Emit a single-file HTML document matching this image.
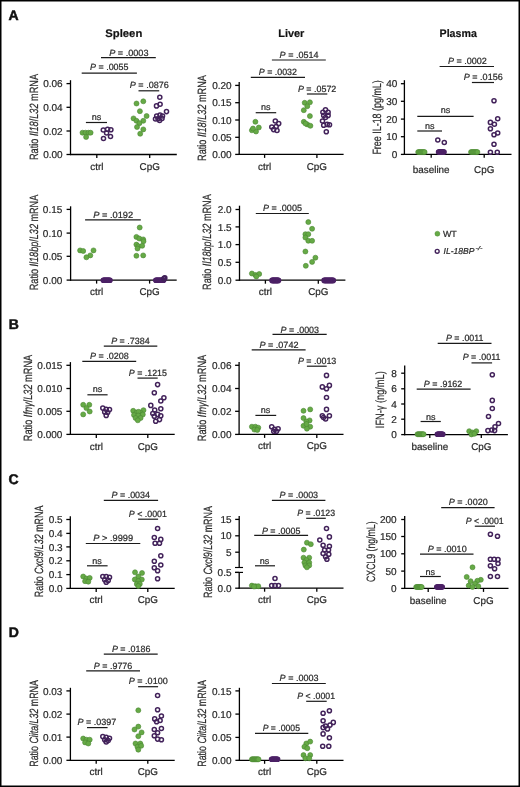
<!DOCTYPE html>
<html><head><meta charset="utf-8"><style>
html,body{margin:0;padding:0;background:#fff;}
svg{display:block;font-family:"Liberation Sans",sans-serif;text-rendering:geometricPrecision;will-change:transform;}
text{stroke:#2a2a2a;stroke-width:0.22px;}
</style></head><body>
<svg width="520" height="787" viewBox="0 0 520 787">
<rect x="0" y="0" width="520" height="787" fill="#fff"/>
<text x="8.60" y="20.30" font-size="14" text-anchor="start" font-weight="bold" font-style="normal" fill="#111" style="stroke:#111;stroke-width:0.5px">A</text>
<text x="8.80" y="328.90" font-size="14" text-anchor="start" font-weight="bold" font-style="normal" fill="#111" style="stroke:#111;stroke-width:0.5px">B</text>
<text x="8.40" y="483.70" font-size="14" text-anchor="start" font-weight="bold" font-style="normal" fill="#111" style="stroke:#111;stroke-width:0.5px">C</text>
<text x="8.80" y="636.90" font-size="14" text-anchor="start" font-weight="bold" font-style="normal" fill="#111" style="stroke:#111;stroke-width:0.5px">D</text>
<text x="123.80" y="37.20" font-size="11" text-anchor="middle" font-weight="bold" font-style="normal" fill="#111" textLength="37" lengthAdjust="spacingAndGlyphs">Spleen</text>
<text x="291.30" y="37.20" font-size="11" text-anchor="middle" font-weight="bold" font-style="normal" fill="#111" textLength="26.2" lengthAdjust="spacingAndGlyphs">Liver</text>
<text x="458.20" y="37.40" font-size="11" text-anchor="middle" font-weight="bold" font-style="normal" fill="#111" textLength="37.3" lengthAdjust="spacingAndGlyphs">Plasma</text>
<line x1="70.50" y1="80.20" x2="70.50" y2="155.10" stroke="#000" stroke-width="1.3"/>
<line x1="69.90" y1="154.50" x2="176.80" y2="154.50" stroke="#000" stroke-width="1.3"/>
<line x1="66.50" y1="83.60" x2="70.50" y2="83.60" stroke="#000" stroke-width="1.3"/>
<text x="62.70" y="87.20" font-size="10" text-anchor="end" font-weight="normal" font-style="normal" fill="#2a2a2a" >0.06</text>
<line x1="66.50" y1="107.30" x2="70.50" y2="107.30" stroke="#000" stroke-width="1.3"/>
<text x="62.70" y="110.90" font-size="10" text-anchor="end" font-weight="normal" font-style="normal" fill="#2a2a2a" >0.04</text>
<line x1="66.50" y1="131.00" x2="70.50" y2="131.00" stroke="#000" stroke-width="1.3"/>
<text x="62.70" y="134.60" font-size="10" text-anchor="end" font-weight="normal" font-style="normal" fill="#2a2a2a" >0.02</text>
<line x1="66.50" y1="154.50" x2="70.50" y2="154.50" stroke="#000" stroke-width="1.3"/>
<text x="62.70" y="158.10" font-size="10" text-anchor="end" font-weight="normal" font-style="normal" fill="#2a2a2a" >0.00</text>
<line x1="96.80" y1="154.50" x2="96.80" y2="158.00" stroke="#000" stroke-width="1.3"/>
<text x="96.80" y="169.90" font-size="9.9" text-anchor="middle" font-weight="normal" font-style="normal" fill="#2a2a2a" >ctrl</text>
<line x1="149.70" y1="154.50" x2="149.70" y2="158.00" stroke="#000" stroke-width="1.3"/>
<text x="149.70" y="169.90" font-size="9.9" text-anchor="middle" font-weight="normal" font-style="normal" fill="#2a2a2a" >CpG</text>
<text transform="translate(37.50,117.00) rotate(-90)" x="0" y="0" font-size="12" text-anchor="middle" fill="#2a2a2a" stroke="#2a2a2a" stroke-width="0.25" textLength="86.10" lengthAdjust="spacingAndGlyphs">Ratio <tspan font-style="italic">Il18</tspan>/<tspan font-style="italic">L32</tspan> mRNA</text>
<text x="109.20" y="55.60" font-size="9" fill="#2a2a2a" textLength="39.30" lengthAdjust="spacingAndGlyphs"><tspan font-style="italic">P</tspan> = .0003</text>
<line x1="101.00" y1="57.70" x2="155.80" y2="57.70" stroke="#1a1a1a" stroke-width="1.2"/>
<text x="90.00" y="70.40" font-size="9" fill="#2a2a2a" textLength="38.50" lengthAdjust="spacingAndGlyphs"><tspan font-style="italic">P</tspan> = .0055</text>
<line x1="81.70" y1="73.10" x2="136.90" y2="73.10" stroke="#1a1a1a" stroke-width="1.2"/>
<text x="129.80" y="87.70" font-size="9" fill="#2a2a2a" textLength="39.00" lengthAdjust="spacingAndGlyphs"><tspan font-style="italic">P</tspan> = .0876</text>
<line x1="138.50" y1="90.80" x2="159.20" y2="90.80" stroke="#1a1a1a" stroke-width="1.2"/>
<text x="96.50" y="119.70" font-size="9" text-anchor="middle" font-weight="normal" font-style="normal" fill="#2a2a2a" >ns</text>
<line x1="85.90" y1="122.50" x2="107.00" y2="122.50" stroke="#1a1a1a" stroke-width="1.2"/>
<circle cx="82.50" cy="132.70" r="2.5" fill="#66aa46" stroke="#4a8732" stroke-width="0.6"/>
<circle cx="85.50" cy="132.70" r="2.5" fill="#66aa46" stroke="#4a8732" stroke-width="0.6"/>
<circle cx="88.50" cy="132.70" r="2.5" fill="#66aa46" stroke="#4a8732" stroke-width="0.6"/>
<circle cx="90.60" cy="132.70" r="2.5" fill="#66aa46" stroke="#4a8732" stroke-width="0.6"/>
<circle cx="86.10" cy="137.00" r="2.5" fill="#66aa46" stroke="#4a8732" stroke-width="0.6"/>
<circle cx="103.30" cy="130.00" r="2.05" fill="none" stroke="#42225a" stroke-width="1.5"/>
<circle cx="107.60" cy="129.30" r="2.05" fill="none" stroke="#42225a" stroke-width="1.5"/>
<circle cx="110.90" cy="129.80" r="2.05" fill="none" stroke="#42225a" stroke-width="1.5"/>
<circle cx="106.60" cy="133.00" r="2.05" fill="none" stroke="#42225a" stroke-width="1.5"/>
<circle cx="110.50" cy="136.50" r="2.05" fill="none" stroke="#42225a" stroke-width="1.5"/>
<circle cx="103.50" cy="138.50" r="2.05" fill="none" stroke="#42225a" stroke-width="1.5"/>
<circle cx="136.50" cy="103.50" r="2.5" fill="#66aa46" stroke="#4a8732" stroke-width="0.6"/>
<circle cx="143.30" cy="101.30" r="2.5" fill="#66aa46" stroke="#4a8732" stroke-width="0.6"/>
<circle cx="139.90" cy="111.20" r="2.5" fill="#66aa46" stroke="#4a8732" stroke-width="0.6"/>
<circle cx="146.60" cy="116.00" r="2.5" fill="#66aa46" stroke="#4a8732" stroke-width="0.6"/>
<circle cx="133.50" cy="118.40" r="2.5" fill="#66aa46" stroke="#4a8732" stroke-width="0.6"/>
<circle cx="143.30" cy="120.80" r="2.5" fill="#66aa46" stroke="#4a8732" stroke-width="0.6"/>
<circle cx="136.50" cy="120.80" r="2.5" fill="#66aa46" stroke="#4a8732" stroke-width="0.6"/>
<circle cx="139.40" cy="123.20" r="2.5" fill="#66aa46" stroke="#4a8732" stroke-width="0.6"/>
<circle cx="137.00" cy="127.00" r="2.5" fill="#66aa46" stroke="#4a8732" stroke-width="0.6"/>
<circle cx="143.30" cy="129.40" r="2.5" fill="#66aa46" stroke="#4a8732" stroke-width="0.6"/>
<circle cx="140.20" cy="133.75" r="2.5" fill="#66aa46" stroke="#4a8732" stroke-width="0.6"/>
<circle cx="159.80" cy="97.20" r="2.05" fill="none" stroke="#42225a" stroke-width="1.5"/>
<circle cx="160.10" cy="104.20" r="2.05" fill="none" stroke="#42225a" stroke-width="1.5"/>
<circle cx="156.50" cy="105.90" r="2.05" fill="none" stroke="#42225a" stroke-width="1.5"/>
<circle cx="166.50" cy="111.60" r="2.05" fill="none" stroke="#42225a" stroke-width="1.5"/>
<circle cx="156.70" cy="116.00" r="2.05" fill="none" stroke="#42225a" stroke-width="1.5"/>
<circle cx="160.00" cy="115.00" r="2.05" fill="none" stroke="#42225a" stroke-width="1.5"/>
<circle cx="162.50" cy="116.00" r="2.05" fill="none" stroke="#42225a" stroke-width="1.5"/>
<circle cx="158.00" cy="118.80" r="2.05" fill="none" stroke="#42225a" stroke-width="1.5"/>
<circle cx="162.00" cy="118.50" r="2.05" fill="none" stroke="#42225a" stroke-width="1.5"/>
<circle cx="159.60" cy="120.50" r="2.05" fill="none" stroke="#42225a" stroke-width="1.5"/>
<circle cx="155.50" cy="119.00" r="2.05" fill="none" stroke="#42225a" stroke-width="1.5"/>
<line x1="239.20" y1="81.90" x2="239.20" y2="155.00" stroke="#000" stroke-width="1.3"/>
<line x1="238.60" y1="154.40" x2="343.60" y2="154.40" stroke="#000" stroke-width="1.3"/>
<line x1="235.20" y1="85.40" x2="239.20" y2="85.40" stroke="#000" stroke-width="1.3"/>
<text x="231.70" y="89.00" font-size="10" text-anchor="end" font-weight="normal" font-style="normal" fill="#2a2a2a" >0.20</text>
<line x1="235.20" y1="102.70" x2="239.20" y2="102.70" stroke="#000" stroke-width="1.3"/>
<text x="231.70" y="106.30" font-size="10" text-anchor="end" font-weight="normal" font-style="normal" fill="#2a2a2a" >0.15</text>
<line x1="235.20" y1="120.00" x2="239.20" y2="120.00" stroke="#000" stroke-width="1.3"/>
<text x="231.70" y="123.60" font-size="10" text-anchor="end" font-weight="normal" font-style="normal" fill="#2a2a2a" >0.10</text>
<line x1="235.20" y1="137.30" x2="239.20" y2="137.30" stroke="#000" stroke-width="1.3"/>
<text x="231.70" y="140.90" font-size="10" text-anchor="end" font-weight="normal" font-style="normal" fill="#2a2a2a" >0.05</text>
<line x1="235.20" y1="154.40" x2="239.20" y2="154.40" stroke="#000" stroke-width="1.3"/>
<text x="231.70" y="158.00" font-size="10" text-anchor="end" font-weight="normal" font-style="normal" fill="#2a2a2a" >0.00</text>
<line x1="264.60" y1="154.40" x2="264.60" y2="157.90" stroke="#000" stroke-width="1.3"/>
<text x="264.60" y="169.80" font-size="9.9" text-anchor="middle" font-weight="normal" font-style="normal" fill="#2a2a2a" >ctrl</text>
<line x1="316.90" y1="154.40" x2="316.90" y2="157.90" stroke="#000" stroke-width="1.3"/>
<text x="316.90" y="169.80" font-size="9.9" text-anchor="middle" font-weight="normal" font-style="normal" fill="#2a2a2a" >CpG</text>
<text transform="translate(206.30,118.00) rotate(-90)" x="0" y="0" font-size="12" text-anchor="middle" fill="#2a2a2a" stroke="#2a2a2a" stroke-width="0.25" textLength="85.80" lengthAdjust="spacingAndGlyphs">Ratio <tspan font-style="italic">Il18</tspan>/<tspan font-style="italic">L32</tspan> mRNA</text>
<text x="279.60" y="58.10" font-size="9" fill="#2a2a2a" textLength="38.90" lengthAdjust="spacingAndGlyphs"><tspan font-style="italic">P</tspan> = .0514</text>
<line x1="271.90" y1="60.00" x2="325.80" y2="60.00" stroke="#1a1a1a" stroke-width="1.2"/>
<text x="258.80" y="75.40" font-size="9" fill="#2a2a2a" textLength="38.10" lengthAdjust="spacingAndGlyphs"><tspan font-style="italic">P</tspan> = .0032</text>
<line x1="250.80" y1="77.30" x2="305.00" y2="77.30" stroke="#1a1a1a" stroke-width="1.2"/>
<text x="297.90" y="92.10" font-size="9" fill="#2a2a2a" textLength="38.40" lengthAdjust="spacingAndGlyphs"><tspan font-style="italic">P</tspan> = .0572</text>
<line x1="306.90" y1="94.00" x2="327.30" y2="94.00" stroke="#1a1a1a" stroke-width="1.2"/>
<text x="265.80" y="110.20" font-size="9" text-anchor="middle" font-weight="normal" font-style="normal" fill="#2a2a2a" >ns</text>
<line x1="255.70" y1="112.70" x2="276.20" y2="112.70" stroke="#1a1a1a" stroke-width="1.2"/>
<circle cx="255.40" cy="121.80" r="2.5" fill="#66aa46" stroke="#4a8732" stroke-width="0.6"/>
<circle cx="258.80" cy="127.50" r="2.5" fill="#66aa46" stroke="#4a8732" stroke-width="0.6"/>
<circle cx="251.90" cy="130.30" r="2.5" fill="#66aa46" stroke="#4a8732" stroke-width="0.6"/>
<circle cx="256.00" cy="131.50" r="2.5" fill="#66aa46" stroke="#4a8732" stroke-width="0.6"/>
<circle cx="253.00" cy="128.50" r="2.5" fill="#66aa46" stroke="#4a8732" stroke-width="0.6"/>
<circle cx="275.30" cy="121.00" r="2.05" fill="none" stroke="#42225a" stroke-width="1.5"/>
<circle cx="278.70" cy="123.60" r="2.05" fill="none" stroke="#42225a" stroke-width="1.5"/>
<circle cx="271.80" cy="127.00" r="2.05" fill="none" stroke="#42225a" stroke-width="1.5"/>
<circle cx="276.20" cy="126.50" r="2.05" fill="none" stroke="#42225a" stroke-width="1.5"/>
<circle cx="273.60" cy="129.60" r="2.05" fill="none" stroke="#42225a" stroke-width="1.5"/>
<circle cx="277.00" cy="130.50" r="2.05" fill="none" stroke="#42225a" stroke-width="1.5"/>
<circle cx="304.70" cy="102.80" r="2.5" fill="#66aa46" stroke="#4a8732" stroke-width="0.6"/>
<circle cx="309.90" cy="102.30" r="2.5" fill="#66aa46" stroke="#4a8732" stroke-width="0.6"/>
<circle cx="307.30" cy="106.20" r="2.5" fill="#66aa46" stroke="#4a8732" stroke-width="0.6"/>
<circle cx="303.80" cy="110.20" r="2.5" fill="#66aa46" stroke="#4a8732" stroke-width="0.6"/>
<circle cx="309.90" cy="116.10" r="2.5" fill="#66aa46" stroke="#4a8732" stroke-width="0.6"/>
<circle cx="303.80" cy="121.80" r="2.5" fill="#66aa46" stroke="#4a8732" stroke-width="0.6"/>
<circle cx="307.30" cy="124.40" r="2.5" fill="#66aa46" stroke="#4a8732" stroke-width="0.6"/>
<circle cx="310.40" cy="125.80" r="2.5" fill="#66aa46" stroke="#4a8732" stroke-width="0.6"/>
<circle cx="305.50" cy="123.50" r="2.5" fill="#66aa46" stroke="#4a8732" stroke-width="0.6"/>
<circle cx="325.50" cy="109.70" r="2.05" fill="none" stroke="#42225a" stroke-width="1.5"/>
<circle cx="322.90" cy="112.30" r="2.05" fill="none" stroke="#42225a" stroke-width="1.5"/>
<circle cx="328.10" cy="112.30" r="2.05" fill="none" stroke="#42225a" stroke-width="1.5"/>
<circle cx="323.70" cy="115.40" r="2.05" fill="none" stroke="#42225a" stroke-width="1.5"/>
<circle cx="328.10" cy="115.40" r="2.05" fill="none" stroke="#42225a" stroke-width="1.5"/>
<circle cx="325.50" cy="117.50" r="2.05" fill="none" stroke="#42225a" stroke-width="1.5"/>
<circle cx="322.50" cy="121.00" r="2.05" fill="none" stroke="#42225a" stroke-width="1.5"/>
<circle cx="327.20" cy="124.40" r="2.05" fill="none" stroke="#42225a" stroke-width="1.5"/>
<circle cx="323.70" cy="125.30" r="2.05" fill="none" stroke="#42225a" stroke-width="1.5"/>
<circle cx="329.50" cy="124.80" r="2.05" fill="none" stroke="#42225a" stroke-width="1.5"/>
<circle cx="326.30" cy="131.70" r="2.05" fill="none" stroke="#42225a" stroke-width="1.5"/>
<line x1="404.40" y1="80.20" x2="404.40" y2="154.90" stroke="#000" stroke-width="1.3"/>
<line x1="403.80" y1="154.30" x2="511.50" y2="154.30" stroke="#000" stroke-width="1.3"/>
<line x1="400.90" y1="83.70" x2="404.40" y2="83.70" stroke="#000" stroke-width="1.3"/>
<text x="397.30" y="87.30" font-size="10" text-anchor="end" font-weight="normal" font-style="normal" fill="#2a2a2a" >40</text>
<line x1="400.90" y1="101.30" x2="404.40" y2="101.30" stroke="#000" stroke-width="1.3"/>
<text x="397.30" y="104.90" font-size="10" text-anchor="end" font-weight="normal" font-style="normal" fill="#2a2a2a" >30</text>
<line x1="400.90" y1="119.10" x2="404.40" y2="119.10" stroke="#000" stroke-width="1.3"/>
<text x="397.30" y="122.70" font-size="10" text-anchor="end" font-weight="normal" font-style="normal" fill="#2a2a2a" >20</text>
<line x1="400.90" y1="136.70" x2="404.40" y2="136.70" stroke="#000" stroke-width="1.3"/>
<text x="397.30" y="140.30" font-size="10" text-anchor="end" font-weight="normal" font-style="normal" fill="#2a2a2a" >10</text>
<line x1="400.90" y1="154.40" x2="404.40" y2="154.40" stroke="#000" stroke-width="1.3"/>
<text x="397.30" y="158.00" font-size="10" text-anchor="end" font-weight="normal" font-style="normal" fill="#2a2a2a" >0</text>
<line x1="431.20" y1="154.30" x2="431.20" y2="157.80" stroke="#000" stroke-width="1.3"/>
<text x="431.20" y="173.30" font-size="9.9" text-anchor="middle" font-weight="normal" font-style="normal" fill="#2a2a2a" >baseline</text>
<line x1="484.20" y1="154.30" x2="484.20" y2="157.80" stroke="#000" stroke-width="1.3"/>
<text x="484.20" y="173.30" font-size="9.9" text-anchor="middle" font-weight="normal" font-style="normal" fill="#2a2a2a" >CpG</text>
<text transform="translate(380.80,117.40) rotate(-90)" x="0" y="0" font-size="12" text-anchor="middle" fill="#2a2a2a" stroke="#2a2a2a" stroke-width="0.25" textLength="74.40" lengthAdjust="spacingAndGlyphs">Free IL-18 (pg/mL)</text>
<text x="447.90" y="64.20" font-size="9" fill="#2a2a2a" textLength="39.00" lengthAdjust="spacingAndGlyphs"><tspan font-style="italic">P</tspan> = .0002</text>
<line x1="439.60" y1="66.50" x2="494.00" y2="66.50" stroke="#1a1a1a" stroke-width="1.2"/>
<text x="463.80" y="80.00" font-size="9" fill="#2a2a2a" textLength="38.90" lengthAdjust="spacingAndGlyphs"><tspan font-style="italic">P</tspan> = .0156</text>
<line x1="471.90" y1="82.50" x2="494.00" y2="82.50" stroke="#1a1a1a" stroke-width="1.2"/>
<text x="445.60" y="113.30" font-size="9" text-anchor="middle" font-weight="normal" font-style="normal" fill="#2a2a2a" >ns</text>
<line x1="417.30" y1="116.40" x2="473.60" y2="116.40" stroke="#1a1a1a" stroke-width="1.2"/>
<text x="429.70" y="128.80" font-size="9" text-anchor="middle" font-weight="normal" font-style="normal" fill="#2a2a2a" >ns</text>
<line x1="417.30" y1="131.00" x2="442.00" y2="131.00" stroke="#1a1a1a" stroke-width="1.2"/>
<circle cx="418.20" cy="152.10" r="2.5" fill="#66aa46" stroke="#4a8732" stroke-width="0.6"/>
<circle cx="419.27" cy="152.10" r="2.5" fill="#66aa46" stroke="#4a8732" stroke-width="0.6"/>
<circle cx="420.33" cy="152.10" r="2.5" fill="#66aa46" stroke="#4a8732" stroke-width="0.6"/>
<circle cx="421.40" cy="152.10" r="2.5" fill="#66aa46" stroke="#4a8732" stroke-width="0.6"/>
<circle cx="422.47" cy="152.10" r="2.5" fill="#66aa46" stroke="#4a8732" stroke-width="0.6"/>
<circle cx="423.53" cy="152.10" r="2.5" fill="#66aa46" stroke="#4a8732" stroke-width="0.6"/>
<circle cx="424.60" cy="152.10" r="2.5" fill="#66aa46" stroke="#4a8732" stroke-width="0.6"/>
<circle cx="438.60" cy="152.00" r="2.05" fill="none" stroke="#4c2166" stroke-width="1.5"/>
<circle cx="439.14" cy="152.00" r="2.05" fill="none" stroke="#4c2166" stroke-width="1.5"/>
<circle cx="439.68" cy="152.00" r="2.05" fill="none" stroke="#4c2166" stroke-width="1.5"/>
<circle cx="440.22" cy="152.00" r="2.05" fill="none" stroke="#4c2166" stroke-width="1.5"/>
<circle cx="440.76" cy="152.00" r="2.05" fill="none" stroke="#4c2166" stroke-width="1.5"/>
<circle cx="441.30" cy="152.00" r="2.05" fill="none" stroke="#4c2166" stroke-width="1.5"/>
<circle cx="441.84" cy="152.00" r="2.05" fill="none" stroke="#4c2166" stroke-width="1.5"/>
<circle cx="442.38" cy="152.00" r="2.05" fill="none" stroke="#4c2166" stroke-width="1.5"/>
<circle cx="442.92" cy="152.00" r="2.05" fill="none" stroke="#4c2166" stroke-width="1.5"/>
<circle cx="443.46" cy="152.00" r="2.05" fill="none" stroke="#4c2166" stroke-width="1.5"/>
<circle cx="444.00" cy="152.00" r="2.05" fill="none" stroke="#4c2166" stroke-width="1.5"/>
<circle cx="437.80" cy="140.00" r="2.05" fill="none" stroke="#42225a" stroke-width="1.5"/>
<circle cx="444.30" cy="142.50" r="2.05" fill="none" stroke="#42225a" stroke-width="1.5"/>
<circle cx="471.00" cy="152.10" r="2.5" fill="#66aa46" stroke="#4a8732" stroke-width="0.6"/>
<circle cx="472.07" cy="152.10" r="2.5" fill="#66aa46" stroke="#4a8732" stroke-width="0.6"/>
<circle cx="473.13" cy="152.10" r="2.5" fill="#66aa46" stroke="#4a8732" stroke-width="0.6"/>
<circle cx="474.20" cy="152.10" r="2.5" fill="#66aa46" stroke="#4a8732" stroke-width="0.6"/>
<circle cx="475.27" cy="152.10" r="2.5" fill="#66aa46" stroke="#4a8732" stroke-width="0.6"/>
<circle cx="476.33" cy="152.10" r="2.5" fill="#66aa46" stroke="#4a8732" stroke-width="0.6"/>
<circle cx="477.40" cy="152.10" r="2.5" fill="#66aa46" stroke="#4a8732" stroke-width="0.6"/>
<circle cx="494.00" cy="100.80" r="2.05" fill="none" stroke="#42225a" stroke-width="1.5"/>
<circle cx="497.70" cy="118.70" r="2.05" fill="none" stroke="#42225a" stroke-width="1.5"/>
<circle cx="490.40" cy="122.40" r="2.05" fill="none" stroke="#42225a" stroke-width="1.5"/>
<circle cx="494.40" cy="124.20" r="2.05" fill="none" stroke="#42225a" stroke-width="1.5"/>
<circle cx="490.40" cy="128.80" r="2.05" fill="none" stroke="#42225a" stroke-width="1.5"/>
<circle cx="497.70" cy="133.00" r="2.05" fill="none" stroke="#42225a" stroke-width="1.5"/>
<circle cx="494.00" cy="134.80" r="2.05" fill="none" stroke="#42225a" stroke-width="1.5"/>
<circle cx="494.00" cy="144.30" r="2.05" fill="none" stroke="#42225a" stroke-width="1.5"/>
<circle cx="490.40" cy="152.20" r="2.05" fill="none" stroke="#42225a" stroke-width="1.5"/>
<circle cx="497.30" cy="152.20" r="2.05" fill="none" stroke="#42225a" stroke-width="1.5"/>
<line x1="70.60" y1="206.30" x2="70.60" y2="280.70" stroke="#000" stroke-width="1.3"/>
<line x1="70.00" y1="280.10" x2="176.70" y2="280.10" stroke="#000" stroke-width="1.3"/>
<line x1="66.60" y1="209.40" x2="70.60" y2="209.40" stroke="#000" stroke-width="1.3"/>
<text x="62.30" y="213.00" font-size="10" text-anchor="end" font-weight="normal" font-style="normal" fill="#2a2a2a" >0.15</text>
<line x1="66.60" y1="233.10" x2="70.60" y2="233.10" stroke="#000" stroke-width="1.3"/>
<text x="62.30" y="236.70" font-size="10" text-anchor="end" font-weight="normal" font-style="normal" fill="#2a2a2a" >0.10</text>
<line x1="66.60" y1="256.30" x2="70.60" y2="256.30" stroke="#000" stroke-width="1.3"/>
<text x="62.30" y="259.90" font-size="10" text-anchor="end" font-weight="normal" font-style="normal" fill="#2a2a2a" >0.05</text>
<line x1="66.60" y1="280.10" x2="70.60" y2="280.10" stroke="#000" stroke-width="1.3"/>
<text x="62.30" y="283.70" font-size="10" text-anchor="end" font-weight="normal" font-style="normal" fill="#2a2a2a" >0.00</text>
<line x1="96.60" y1="280.10" x2="96.60" y2="283.60" stroke="#000" stroke-width="1.3"/>
<text x="96.60" y="294.80" font-size="9.9" text-anchor="middle" font-weight="normal" font-style="normal" fill="#2a2a2a" >ctrl</text>
<line x1="149.60" y1="280.10" x2="149.60" y2="283.60" stroke="#000" stroke-width="1.3"/>
<text x="149.60" y="294.80" font-size="9.9" text-anchor="middle" font-weight="normal" font-style="normal" fill="#2a2a2a" >CpG</text>
<text transform="translate(37.90,242.50) rotate(-90)" x="0" y="0" font-size="12" text-anchor="middle" fill="#2a2a2a" stroke="#2a2a2a" stroke-width="0.25" textLength="95.40" lengthAdjust="spacingAndGlyphs">Ratio <tspan font-style="italic">Il18bp</tspan>/<tspan font-style="italic">L32</tspan> mRNA</text>
<text x="93.20" y="217.70" font-size="9" fill="#2a2a2a" textLength="40.00" lengthAdjust="spacingAndGlyphs"><tspan font-style="italic">P</tspan> = .0192</text>
<line x1="85.10" y1="219.80" x2="140.80" y2="219.80" stroke="#1a1a1a" stroke-width="1.2"/>
<circle cx="80.10" cy="250.40" r="2.5" fill="#66aa46" stroke="#4a8732" stroke-width="0.6"/>
<circle cx="83.20" cy="251.00" r="2.5" fill="#66aa46" stroke="#4a8732" stroke-width="0.6"/>
<circle cx="93.50" cy="250.40" r="2.5" fill="#66aa46" stroke="#4a8732" stroke-width="0.6"/>
<circle cx="90.30" cy="255.40" r="2.5" fill="#66aa46" stroke="#4a8732" stroke-width="0.6"/>
<circle cx="86.40" cy="257.30" r="2.5" fill="#66aa46" stroke="#4a8732" stroke-width="0.6"/>
<circle cx="103.30" cy="280.20" r="2.05" fill="none" stroke="#4c2166" stroke-width="1.5"/>
<circle cx="103.91" cy="280.20" r="2.05" fill="none" stroke="#4c2166" stroke-width="1.5"/>
<circle cx="104.52" cy="280.20" r="2.05" fill="none" stroke="#4c2166" stroke-width="1.5"/>
<circle cx="105.13" cy="280.20" r="2.05" fill="none" stroke="#4c2166" stroke-width="1.5"/>
<circle cx="105.74" cy="280.20" r="2.05" fill="none" stroke="#4c2166" stroke-width="1.5"/>
<circle cx="106.35" cy="280.20" r="2.05" fill="none" stroke="#4c2166" stroke-width="1.5"/>
<circle cx="106.95" cy="280.20" r="2.05" fill="none" stroke="#4c2166" stroke-width="1.5"/>
<circle cx="107.56" cy="280.20" r="2.05" fill="none" stroke="#4c2166" stroke-width="1.5"/>
<circle cx="108.17" cy="280.20" r="2.05" fill="none" stroke="#4c2166" stroke-width="1.5"/>
<circle cx="108.78" cy="280.20" r="2.05" fill="none" stroke="#4c2166" stroke-width="1.5"/>
<circle cx="109.39" cy="280.20" r="2.05" fill="none" stroke="#4c2166" stroke-width="1.5"/>
<circle cx="110.00" cy="280.20" r="2.05" fill="none" stroke="#4c2166" stroke-width="1.5"/>
<circle cx="139.70" cy="227.50" r="2.5" fill="#66aa46" stroke="#4a8732" stroke-width="0.6"/>
<circle cx="136.40" cy="236.90" r="2.5" fill="#66aa46" stroke="#4a8732" stroke-width="0.6"/>
<circle cx="139.30" cy="238.50" r="2.5" fill="#66aa46" stroke="#4a8732" stroke-width="0.6"/>
<circle cx="143.20" cy="239.40" r="2.5" fill="#66aa46" stroke="#4a8732" stroke-width="0.6"/>
<circle cx="143.50" cy="241.30" r="2.5" fill="#66aa46" stroke="#4a8732" stroke-width="0.6"/>
<circle cx="136.40" cy="244.60" r="2.5" fill="#66aa46" stroke="#4a8732" stroke-width="0.6"/>
<circle cx="138.30" cy="246.20" r="2.5" fill="#66aa46" stroke="#4a8732" stroke-width="0.6"/>
<circle cx="142.20" cy="245.80" r="2.5" fill="#66aa46" stroke="#4a8732" stroke-width="0.6"/>
<circle cx="137.50" cy="248.50" r="2.5" fill="#66aa46" stroke="#4a8732" stroke-width="0.6"/>
<circle cx="136.40" cy="255.80" r="2.5" fill="#66aa46" stroke="#4a8732" stroke-width="0.6"/>
<circle cx="143.20" cy="255.40" r="2.5" fill="#66aa46" stroke="#4a8732" stroke-width="0.6"/>
<circle cx="155.80" cy="280.30" r="2.05" fill="none" stroke="#4c2166" stroke-width="1.5"/>
<circle cx="156.45" cy="280.30" r="2.05" fill="none" stroke="#4c2166" stroke-width="1.5"/>
<circle cx="157.10" cy="280.30" r="2.05" fill="none" stroke="#4c2166" stroke-width="1.5"/>
<circle cx="157.75" cy="280.30" r="2.05" fill="none" stroke="#4c2166" stroke-width="1.5"/>
<circle cx="158.40" cy="280.30" r="2.05" fill="none" stroke="#4c2166" stroke-width="1.5"/>
<circle cx="159.05" cy="280.30" r="2.05" fill="none" stroke="#4c2166" stroke-width="1.5"/>
<circle cx="159.70" cy="280.30" r="2.05" fill="none" stroke="#4c2166" stroke-width="1.5"/>
<circle cx="160.35" cy="280.30" r="2.05" fill="none" stroke="#4c2166" stroke-width="1.5"/>
<circle cx="161.00" cy="280.30" r="2.05" fill="none" stroke="#4c2166" stroke-width="1.5"/>
<circle cx="161.65" cy="280.30" r="2.05" fill="none" stroke="#4c2166" stroke-width="1.5"/>
<circle cx="162.30" cy="280.30" r="2.05" fill="none" stroke="#4c2166" stroke-width="1.5"/>
<circle cx="162.95" cy="280.30" r="2.05" fill="none" stroke="#4c2166" stroke-width="1.5"/>
<circle cx="163.60" cy="280.30" r="2.05" fill="none" stroke="#4c2166" stroke-width="1.5"/>
<circle cx="164.30" cy="278.30" r="2.05" fill="none" stroke="#42225a" stroke-width="1.5"/>
<circle cx="164.80" cy="277.90" r="2.05" fill="none" stroke="#42225a" stroke-width="1.5"/>
<circle cx="163.80" cy="278.80" r="2.05" fill="none" stroke="#42225a" stroke-width="1.5"/>
<line x1="239.50" y1="205.70" x2="239.50" y2="280.80" stroke="#000" stroke-width="1.3"/>
<line x1="238.90" y1="280.20" x2="345.40" y2="280.20" stroke="#000" stroke-width="1.3"/>
<line x1="235.50" y1="209.50" x2="239.50" y2="209.50" stroke="#000" stroke-width="1.3"/>
<text x="231.70" y="213.10" font-size="10" text-anchor="end" font-weight="normal" font-style="normal" fill="#2a2a2a" >2.0</text>
<line x1="235.50" y1="226.90" x2="239.50" y2="226.90" stroke="#000" stroke-width="1.3"/>
<text x="231.70" y="230.50" font-size="10" text-anchor="end" font-weight="normal" font-style="normal" fill="#2a2a2a" >1.5</text>
<line x1="235.50" y1="244.60" x2="239.50" y2="244.60" stroke="#000" stroke-width="1.3"/>
<text x="231.70" y="248.20" font-size="10" text-anchor="end" font-weight="normal" font-style="normal" fill="#2a2a2a" >1.0</text>
<line x1="235.50" y1="262.30" x2="239.50" y2="262.30" stroke="#000" stroke-width="1.3"/>
<text x="231.70" y="265.90" font-size="10" text-anchor="end" font-weight="normal" font-style="normal" fill="#2a2a2a" >0.5</text>
<line x1="235.50" y1="280.20" x2="239.50" y2="280.20" stroke="#000" stroke-width="1.3"/>
<text x="231.70" y="283.80" font-size="10" text-anchor="end" font-weight="normal" font-style="normal" fill="#2a2a2a" >0.0</text>
<line x1="265.40" y1="280.20" x2="265.40" y2="283.70" stroke="#000" stroke-width="1.3"/>
<text x="265.40" y="294.80" font-size="9.9" text-anchor="middle" font-weight="normal" font-style="normal" fill="#2a2a2a" >ctrl</text>
<line x1="318.30" y1="280.20" x2="318.30" y2="283.70" stroke="#000" stroke-width="1.3"/>
<text x="318.30" y="294.80" font-size="9.9" text-anchor="middle" font-weight="normal" font-style="normal" fill="#2a2a2a" >CpG</text>
<text transform="translate(210.60,242.10) rotate(-90)" x="0" y="0" font-size="12" text-anchor="middle" fill="#2a2a2a" stroke="#2a2a2a" stroke-width="0.25" textLength="95.70" lengthAdjust="spacingAndGlyphs">Ratio <tspan font-style="italic">Il18bp</tspan>/<tspan font-style="italic">L32</tspan> mRNA</text>
<text x="263.10" y="211.00" font-size="9" fill="#2a2a2a" textLength="38.80" lengthAdjust="spacingAndGlyphs"><tspan font-style="italic">P</tspan> = .0005</text>
<line x1="255.80" y1="213.50" x2="308.80" y2="213.50" stroke="#1a1a1a" stroke-width="1.2"/>
<circle cx="251.90" cy="273.50" r="2.5" fill="#66aa46" stroke="#4a8732" stroke-width="0.6"/>
<circle cx="255.40" cy="275.00" r="2.5" fill="#66aa46" stroke="#4a8732" stroke-width="0.6"/>
<circle cx="259.20" cy="274.00" r="2.5" fill="#66aa46" stroke="#4a8732" stroke-width="0.6"/>
<circle cx="256.30" cy="276.50" r="2.5" fill="#66aa46" stroke="#4a8732" stroke-width="0.6"/>
<circle cx="272.00" cy="280.40" r="2.05" fill="none" stroke="#4c2166" stroke-width="1.5"/>
<circle cx="272.59" cy="280.40" r="2.05" fill="none" stroke="#4c2166" stroke-width="1.5"/>
<circle cx="273.18" cy="280.40" r="2.05" fill="none" stroke="#4c2166" stroke-width="1.5"/>
<circle cx="273.77" cy="280.40" r="2.05" fill="none" stroke="#4c2166" stroke-width="1.5"/>
<circle cx="274.36" cy="280.40" r="2.05" fill="none" stroke="#4c2166" stroke-width="1.5"/>
<circle cx="274.95" cy="280.40" r="2.05" fill="none" stroke="#4c2166" stroke-width="1.5"/>
<circle cx="275.55" cy="280.40" r="2.05" fill="none" stroke="#4c2166" stroke-width="1.5"/>
<circle cx="276.14" cy="280.40" r="2.05" fill="none" stroke="#4c2166" stroke-width="1.5"/>
<circle cx="276.73" cy="280.40" r="2.05" fill="none" stroke="#4c2166" stroke-width="1.5"/>
<circle cx="277.32" cy="280.40" r="2.05" fill="none" stroke="#4c2166" stroke-width="1.5"/>
<circle cx="277.91" cy="280.40" r="2.05" fill="none" stroke="#4c2166" stroke-width="1.5"/>
<circle cx="278.50" cy="280.40" r="2.05" fill="none" stroke="#4c2166" stroke-width="1.5"/>
<circle cx="308.30" cy="222.10" r="2.5" fill="#66aa46" stroke="#4a8732" stroke-width="0.6"/>
<circle cx="312.10" cy="228.80" r="2.5" fill="#66aa46" stroke="#4a8732" stroke-width="0.6"/>
<circle cx="305.40" cy="234.20" r="2.5" fill="#66aa46" stroke="#4a8732" stroke-width="0.6"/>
<circle cx="308.30" cy="234.20" r="2.5" fill="#66aa46" stroke="#4a8732" stroke-width="0.6"/>
<circle cx="305.40" cy="237.50" r="2.5" fill="#66aa46" stroke="#4a8732" stroke-width="0.6"/>
<circle cx="308.30" cy="240.80" r="2.5" fill="#66aa46" stroke="#4a8732" stroke-width="0.6"/>
<circle cx="312.10" cy="240.80" r="2.5" fill="#66aa46" stroke="#4a8732" stroke-width="0.6"/>
<circle cx="305.40" cy="251.50" r="2.5" fill="#66aa46" stroke="#4a8732" stroke-width="0.6"/>
<circle cx="315.40" cy="257.70" r="2.5" fill="#66aa46" stroke="#4a8732" stroke-width="0.6"/>
<circle cx="312.10" cy="261.90" r="2.5" fill="#66aa46" stroke="#4a8732" stroke-width="0.6"/>
<circle cx="305.80" cy="265.80" r="2.5" fill="#66aa46" stroke="#4a8732" stroke-width="0.6"/>
<circle cx="324.10" cy="280.40" r="2.05" fill="none" stroke="#4c2166" stroke-width="1.5"/>
<circle cx="324.81" cy="280.40" r="2.05" fill="none" stroke="#4c2166" stroke-width="1.5"/>
<circle cx="325.52" cy="280.40" r="2.05" fill="none" stroke="#4c2166" stroke-width="1.5"/>
<circle cx="326.22" cy="280.40" r="2.05" fill="none" stroke="#4c2166" stroke-width="1.5"/>
<circle cx="326.93" cy="280.40" r="2.05" fill="none" stroke="#4c2166" stroke-width="1.5"/>
<circle cx="327.64" cy="280.40" r="2.05" fill="none" stroke="#4c2166" stroke-width="1.5"/>
<circle cx="328.35" cy="280.40" r="2.05" fill="none" stroke="#4c2166" stroke-width="1.5"/>
<circle cx="329.05" cy="280.40" r="2.05" fill="none" stroke="#4c2166" stroke-width="1.5"/>
<circle cx="329.76" cy="280.40" r="2.05" fill="none" stroke="#4c2166" stroke-width="1.5"/>
<circle cx="330.47" cy="280.40" r="2.05" fill="none" stroke="#4c2166" stroke-width="1.5"/>
<circle cx="331.18" cy="280.40" r="2.05" fill="none" stroke="#4c2166" stroke-width="1.5"/>
<circle cx="331.88" cy="280.40" r="2.05" fill="none" stroke="#4c2166" stroke-width="1.5"/>
<circle cx="332.59" cy="280.40" r="2.05" fill="none" stroke="#4c2166" stroke-width="1.5"/>
<circle cx="333.30" cy="280.40" r="2.05" fill="none" stroke="#4c2166" stroke-width="1.5"/>
<circle cx="437.4" cy="233.7" r="2.5" fill="#66aa46" stroke="#4a8732" stroke-width="0.4"/>
<text x="442.9" y="236.5" font-size="8.9" fill="#2a2a2a" textLength="13.9" lengthAdjust="spacingAndGlyphs">WT</text>
<circle cx="437.2" cy="251.3" r="1.95" fill="none" stroke="#42225a" stroke-width="1.4"/>
<text x="443.6" y="254.4" font-size="8.7" font-style="italic" fill="#2a2a2a" textLength="30.8" lengthAdjust="spacingAndGlyphs">IL-18BP</text>
<text x="475.6" y="250.4" font-size="5.5" font-style="italic" fill="#2a2a2a" textLength="6.9" lengthAdjust="spacingAndGlyphs">-/-</text>
<line x1="70.40" y1="362.10" x2="70.40" y2="435.00" stroke="#000" stroke-width="1.3"/>
<line x1="69.80" y1="434.40" x2="174.70" y2="434.40" stroke="#000" stroke-width="1.3"/>
<line x1="66.40" y1="365.30" x2="70.40" y2="365.30" stroke="#000" stroke-width="1.3"/>
<text x="62.40" y="368.90" font-size="10" text-anchor="end" font-weight="normal" font-style="normal" fill="#2a2a2a" >0.015</text>
<line x1="66.40" y1="388.50" x2="70.40" y2="388.50" stroke="#000" stroke-width="1.3"/>
<text x="62.40" y="392.10" font-size="10" text-anchor="end" font-weight="normal" font-style="normal" fill="#2a2a2a" >0.010</text>
<line x1="66.40" y1="411.30" x2="70.40" y2="411.30" stroke="#000" stroke-width="1.3"/>
<text x="62.40" y="414.90" font-size="10" text-anchor="end" font-weight="normal" font-style="normal" fill="#2a2a2a" >0.005</text>
<line x1="66.40" y1="434.40" x2="70.40" y2="434.40" stroke="#000" stroke-width="1.3"/>
<text x="62.40" y="438.00" font-size="10" text-anchor="end" font-weight="normal" font-style="normal" fill="#2a2a2a" >0.000</text>
<line x1="96.30" y1="434.40" x2="96.30" y2="437.90" stroke="#000" stroke-width="1.3"/>
<text x="96.30" y="450.00" font-size="9.9" text-anchor="middle" font-weight="normal" font-style="normal" fill="#2a2a2a" >ctrl</text>
<line x1="147.80" y1="434.40" x2="147.80" y2="437.90" stroke="#000" stroke-width="1.3"/>
<text x="147.80" y="450.00" font-size="9.9" text-anchor="middle" font-weight="normal" font-style="normal" fill="#2a2a2a" >CpG</text>
<text transform="translate(31.80,398.00) rotate(-90)" x="0" y="0" font-size="12" text-anchor="middle" fill="#2a2a2a" stroke="#2a2a2a" stroke-width="0.25" textLength="86.40" lengthAdjust="spacingAndGlyphs">Ratio <tspan font-style="italic">Ifnγ</tspan>/<tspan font-style="italic">L32</tspan> mRNA</text>
<text x="111.20" y="343.80" font-size="9" fill="#2a2a2a" textLength="38.40" lengthAdjust="spacingAndGlyphs"><tspan font-style="italic">P</tspan> = .7384</text>
<line x1="103.80" y1="346.20" x2="157.30" y2="346.20" stroke="#1a1a1a" stroke-width="1.2"/>
<text x="90.00" y="358.80" font-size="9" fill="#2a2a2a" textLength="38.80" lengthAdjust="spacingAndGlyphs"><tspan font-style="italic">P</tspan> = .0208</text>
<line x1="82.30" y1="361.30" x2="136.20" y2="361.30" stroke="#1a1a1a" stroke-width="1.2"/>
<text x="128.80" y="375.60" font-size="9" fill="#2a2a2a" textLength="38.10" lengthAdjust="spacingAndGlyphs"><tspan font-style="italic">P</tspan> = .1215</text>
<line x1="137.50" y1="378.10" x2="157.70" y2="378.10" stroke="#1a1a1a" stroke-width="1.2"/>
<text x="97.60" y="392.30" font-size="9" text-anchor="middle" font-weight="normal" font-style="normal" fill="#2a2a2a" >ns</text>
<line x1="87.40" y1="394.80" x2="107.60" y2="394.80" stroke="#1a1a1a" stroke-width="1.2"/>
<circle cx="83.20" cy="404.80" r="2.5" fill="#66aa46" stroke="#4a8732" stroke-width="0.6"/>
<circle cx="89.30" cy="404.80" r="2.5" fill="#66aa46" stroke="#4a8732" stroke-width="0.6"/>
<circle cx="86.40" cy="408.10" r="2.5" fill="#66aa46" stroke="#4a8732" stroke-width="0.6"/>
<circle cx="89.70" cy="411.50" r="2.5" fill="#66aa46" stroke="#4a8732" stroke-width="0.6"/>
<circle cx="83.20" cy="414.40" r="2.5" fill="#66aa46" stroke="#4a8732" stroke-width="0.6"/>
<circle cx="102.80" cy="408.10" r="2.05" fill="none" stroke="#42225a" stroke-width="1.5"/>
<circle cx="106.20" cy="409.20" r="2.05" fill="none" stroke="#42225a" stroke-width="1.5"/>
<circle cx="109.50" cy="409.60" r="2.05" fill="none" stroke="#42225a" stroke-width="1.5"/>
<circle cx="104.70" cy="411.90" r="2.05" fill="none" stroke="#42225a" stroke-width="1.5"/>
<circle cx="107.60" cy="412.50" r="2.05" fill="none" stroke="#42225a" stroke-width="1.5"/>
<circle cx="106.20" cy="415.40" r="2.05" fill="none" stroke="#42225a" stroke-width="1.5"/>
<circle cx="133.20" cy="410.80" r="2.5" fill="#66aa46" stroke="#4a8732" stroke-width="0.6"/>
<circle cx="143.50" cy="410.20" r="2.5" fill="#66aa46" stroke="#4a8732" stroke-width="0.6"/>
<circle cx="136.50" cy="412.50" r="2.5" fill="#66aa46" stroke="#4a8732" stroke-width="0.6"/>
<circle cx="140.50" cy="412.50" r="2.5" fill="#66aa46" stroke="#4a8732" stroke-width="0.6"/>
<circle cx="138.50" cy="411.80" r="2.5" fill="#66aa46" stroke="#4a8732" stroke-width="0.6"/>
<circle cx="134.00" cy="415.00" r="2.5" fill="#66aa46" stroke="#4a8732" stroke-width="0.6"/>
<circle cx="142.80" cy="414.50" r="2.5" fill="#66aa46" stroke="#4a8732" stroke-width="0.6"/>
<circle cx="138.20" cy="415.50" r="2.5" fill="#66aa46" stroke="#4a8732" stroke-width="0.6"/>
<circle cx="135.60" cy="418.00" r="2.5" fill="#66aa46" stroke="#4a8732" stroke-width="0.6"/>
<circle cx="140.60" cy="418.00" r="2.5" fill="#66aa46" stroke="#4a8732" stroke-width="0.6"/>
<circle cx="137.80" cy="420.30" r="2.5" fill="#66aa46" stroke="#4a8732" stroke-width="0.6"/>
<circle cx="157.60" cy="384.60" r="2.05" fill="none" stroke="#42225a" stroke-width="1.5"/>
<circle cx="154.30" cy="392.70" r="2.05" fill="none" stroke="#42225a" stroke-width="1.5"/>
<circle cx="163.90" cy="397.70" r="2.05" fill="none" stroke="#42225a" stroke-width="1.5"/>
<circle cx="160.80" cy="401.00" r="2.05" fill="none" stroke="#42225a" stroke-width="1.5"/>
<circle cx="150.80" cy="405.40" r="2.05" fill="none" stroke="#42225a" stroke-width="1.5"/>
<circle cx="154.70" cy="410.00" r="2.05" fill="none" stroke="#42225a" stroke-width="1.5"/>
<circle cx="160.80" cy="408.70" r="2.05" fill="none" stroke="#42225a" stroke-width="1.5"/>
<circle cx="152.80" cy="413.50" r="2.05" fill="none" stroke="#42225a" stroke-width="1.5"/>
<circle cx="157.60" cy="414.40" r="2.05" fill="none" stroke="#42225a" stroke-width="1.5"/>
<circle cx="154.30" cy="416.30" r="2.05" fill="none" stroke="#42225a" stroke-width="1.5"/>
<circle cx="160.80" cy="415.80" r="2.05" fill="none" stroke="#42225a" stroke-width="1.5"/>
<circle cx="155.70" cy="421.20" r="2.05" fill="none" stroke="#42225a" stroke-width="1.5"/>
<circle cx="159.50" cy="419.60" r="2.05" fill="none" stroke="#42225a" stroke-width="1.5"/>
<line x1="239.10" y1="362.10" x2="239.10" y2="435.00" stroke="#000" stroke-width="1.3"/>
<line x1="238.50" y1="434.40" x2="343.50" y2="434.40" stroke="#000" stroke-width="1.3"/>
<line x1="235.10" y1="365.30" x2="239.10" y2="365.30" stroke="#000" stroke-width="1.3"/>
<text x="231.50" y="368.90" font-size="10" text-anchor="end" font-weight="normal" font-style="normal" fill="#2a2a2a" >0.06</text>
<line x1="235.10" y1="388.50" x2="239.10" y2="388.50" stroke="#000" stroke-width="1.3"/>
<text x="231.50" y="392.10" font-size="10" text-anchor="end" font-weight="normal" font-style="normal" fill="#2a2a2a" >0.04</text>
<line x1="235.10" y1="411.30" x2="239.10" y2="411.30" stroke="#000" stroke-width="1.3"/>
<text x="231.50" y="414.90" font-size="10" text-anchor="end" font-weight="normal" font-style="normal" fill="#2a2a2a" >0.02</text>
<line x1="235.10" y1="434.40" x2="239.10" y2="434.40" stroke="#000" stroke-width="1.3"/>
<text x="231.50" y="438.00" font-size="10" text-anchor="end" font-weight="normal" font-style="normal" fill="#2a2a2a" >0.00</text>
<line x1="264.60" y1="434.40" x2="264.60" y2="437.90" stroke="#000" stroke-width="1.3"/>
<text x="264.60" y="449.30" font-size="9.9" text-anchor="middle" font-weight="normal" font-style="normal" fill="#2a2a2a" >ctrl</text>
<line x1="316.80" y1="434.40" x2="316.80" y2="437.90" stroke="#000" stroke-width="1.3"/>
<text x="316.80" y="449.30" font-size="9.9" text-anchor="middle" font-weight="normal" font-style="normal" fill="#2a2a2a" >CpG</text>
<text transform="translate(206.00,398.00) rotate(-90)" x="0" y="0" font-size="12" text-anchor="middle" fill="#2a2a2a" stroke="#2a2a2a" stroke-width="0.25" textLength="86.40" lengthAdjust="spacingAndGlyphs">Ratio <tspan font-style="italic">Ifnγ</tspan>/<tspan font-style="italic">L32</tspan> mRNA</text>
<text x="280.60" y="332.50" font-size="9" fill="#2a2a2a" textLength="38.40" lengthAdjust="spacingAndGlyphs"><tspan font-style="italic">P</tspan> = .0003</text>
<line x1="272.50" y1="334.40" x2="326.70" y2="334.40" stroke="#1a1a1a" stroke-width="1.2"/>
<text x="259.40" y="347.50" font-size="9" fill="#2a2a2a" textLength="39.10" lengthAdjust="spacingAndGlyphs"><tspan font-style="italic">P</tspan> = .0742</text>
<line x1="251.70" y1="349.80" x2="305.60" y2="349.80" stroke="#1a1a1a" stroke-width="1.2"/>
<text x="297.90" y="363.80" font-size="9" fill="#2a2a2a" textLength="38.40" lengthAdjust="spacingAndGlyphs"><tspan font-style="italic">P</tspan> = .0013</text>
<line x1="306.90" y1="366.20" x2="326.70" y2="366.20" stroke="#1a1a1a" stroke-width="1.2"/>
<text x="265.60" y="412.70" font-size="9" text-anchor="middle" font-weight="normal" font-style="normal" fill="#2a2a2a" >ns</text>
<line x1="255.40" y1="415.40" x2="276.20" y2="415.40" stroke="#1a1a1a" stroke-width="1.2"/>
<circle cx="251.90" cy="426.70" r="2.5" fill="#66aa46" stroke="#4a8732" stroke-width="0.6"/>
<circle cx="255.40" cy="426.70" r="2.5" fill="#66aa46" stroke="#4a8732" stroke-width="0.6"/>
<circle cx="258.30" cy="427.70" r="2.5" fill="#66aa46" stroke="#4a8732" stroke-width="0.6"/>
<circle cx="254.40" cy="429.60" r="2.5" fill="#66aa46" stroke="#4a8732" stroke-width="0.6"/>
<circle cx="257.30" cy="430.00" r="2.5" fill="#66aa46" stroke="#4a8732" stroke-width="0.6"/>
<circle cx="271.70" cy="426.70" r="2.05" fill="none" stroke="#42225a" stroke-width="1.5"/>
<circle cx="274.60" cy="429.20" r="2.05" fill="none" stroke="#42225a" stroke-width="1.5"/>
<circle cx="278.10" cy="428.70" r="2.05" fill="none" stroke="#42225a" stroke-width="1.5"/>
<circle cx="273.70" cy="431.20" r="2.05" fill="none" stroke="#42225a" stroke-width="1.5"/>
<circle cx="276.50" cy="431.20" r="2.05" fill="none" stroke="#42225a" stroke-width="1.5"/>
<circle cx="303.50" cy="410.80" r="2.5" fill="#66aa46" stroke="#4a8732" stroke-width="0.6"/>
<circle cx="310.20" cy="409.40" r="2.5" fill="#66aa46" stroke="#4a8732" stroke-width="0.6"/>
<circle cx="303.50" cy="418.10" r="2.5" fill="#66aa46" stroke="#4a8732" stroke-width="0.6"/>
<circle cx="309.60" cy="420.40" r="2.5" fill="#66aa46" stroke="#4a8732" stroke-width="0.6"/>
<circle cx="306.30" cy="421.50" r="2.5" fill="#66aa46" stroke="#4a8732" stroke-width="0.6"/>
<circle cx="303.50" cy="425.80" r="2.5" fill="#66aa46" stroke="#4a8732" stroke-width="0.6"/>
<circle cx="310.20" cy="426.70" r="2.5" fill="#66aa46" stroke="#4a8732" stroke-width="0.6"/>
<circle cx="306.90" cy="428.70" r="2.5" fill="#66aa46" stroke="#4a8732" stroke-width="0.6"/>
<circle cx="306.50" cy="424.00" r="2.5" fill="#66aa46" stroke="#4a8732" stroke-width="0.6"/>
<circle cx="326.50" cy="375.40" r="2.05" fill="none" stroke="#42225a" stroke-width="1.5"/>
<circle cx="322.30" cy="386.90" r="2.05" fill="none" stroke="#42225a" stroke-width="1.5"/>
<circle cx="329.40" cy="385.40" r="2.05" fill="none" stroke="#42225a" stroke-width="1.5"/>
<circle cx="326.50" cy="388.80" r="2.05" fill="none" stroke="#42225a" stroke-width="1.5"/>
<circle cx="326.50" cy="397.50" r="2.05" fill="none" stroke="#42225a" stroke-width="1.5"/>
<circle cx="326.50" cy="409.40" r="2.05" fill="none" stroke="#42225a" stroke-width="1.5"/>
<circle cx="322.30" cy="415.80" r="2.05" fill="none" stroke="#42225a" stroke-width="1.5"/>
<circle cx="329.40" cy="415.80" r="2.05" fill="none" stroke="#42225a" stroke-width="1.5"/>
<circle cx="325.60" cy="419.00" r="2.05" fill="none" stroke="#42225a" stroke-width="1.5"/>
<circle cx="323.50" cy="417.50" r="2.05" fill="none" stroke="#42225a" stroke-width="1.5"/>
<line x1="404.70" y1="365.60" x2="404.70" y2="435.20" stroke="#000" stroke-width="1.3"/>
<line x1="404.10" y1="434.60" x2="507.90" y2="434.60" stroke="#000" stroke-width="1.3"/>
<line x1="401.20" y1="373.20" x2="404.70" y2="373.20" stroke="#000" stroke-width="1.3"/>
<text x="396.80" y="376.80" font-size="10" text-anchor="end" font-weight="normal" font-style="normal" fill="#2a2a2a" >8</text>
<line x1="401.20" y1="388.80" x2="404.70" y2="388.80" stroke="#000" stroke-width="1.3"/>
<text x="396.80" y="392.40" font-size="10" text-anchor="end" font-weight="normal" font-style="normal" fill="#2a2a2a" >6</text>
<line x1="401.20" y1="404.00" x2="404.70" y2="404.00" stroke="#000" stroke-width="1.3"/>
<text x="396.80" y="407.60" font-size="10" text-anchor="end" font-weight="normal" font-style="normal" fill="#2a2a2a" >4</text>
<line x1="401.20" y1="419.20" x2="404.70" y2="419.20" stroke="#000" stroke-width="1.3"/>
<text x="396.80" y="422.80" font-size="10" text-anchor="end" font-weight="normal" font-style="normal" fill="#2a2a2a" >2</text>
<line x1="401.20" y1="434.60" x2="404.70" y2="434.60" stroke="#000" stroke-width="1.3"/>
<text x="396.80" y="438.20" font-size="10" text-anchor="end" font-weight="normal" font-style="normal" fill="#2a2a2a" >0</text>
<line x1="429.80" y1="434.60" x2="429.80" y2="438.10" stroke="#000" stroke-width="1.3"/>
<text x="429.80" y="449.80" font-size="9.9" text-anchor="middle" font-weight="normal" font-style="normal" fill="#2a2a2a" >baseline</text>
<line x1="481.30" y1="434.60" x2="481.30" y2="438.10" stroke="#000" stroke-width="1.3"/>
<text x="481.30" y="449.80" font-size="9.9" text-anchor="middle" font-weight="normal" font-style="normal" fill="#2a2a2a" >CpG</text>
<text transform="translate(384.40,399.70) rotate(-90)" x="0" y="0" font-size="12" text-anchor="middle" fill="#2a2a2a" stroke="#2a2a2a" stroke-width="0.25" textLength="56.90" lengthAdjust="spacingAndGlyphs">IFN-γ (ng/mL)</text>
<text x="446.00" y="340.80" font-size="9" fill="#2a2a2a" textLength="37.50" lengthAdjust="spacingAndGlyphs"><tspan font-style="italic">P</tspan> = .0011</text>
<line x1="437.70" y1="343.30" x2="491.50" y2="343.30" stroke="#1a1a1a" stroke-width="1.2"/>
<text x="462.70" y="360.00" font-size="9" fill="#2a2a2a" textLength="37.70" lengthAdjust="spacingAndGlyphs"><tspan font-style="italic">P</tspan> = .0011</text>
<line x1="471.50" y1="362.90" x2="492.10" y2="362.90" stroke="#1a1a1a" stroke-width="1.2"/>
<text x="423.80" y="386.90" font-size="9" fill="#2a2a2a" textLength="38.50" lengthAdjust="spacingAndGlyphs"><tspan font-style="italic">P</tspan> = .9162</text>
<line x1="416.70" y1="389.20" x2="470.60" y2="389.20" stroke="#1a1a1a" stroke-width="1.2"/>
<text x="430.80" y="419.60" font-size="9" text-anchor="middle" font-weight="normal" font-style="normal" fill="#2a2a2a" >ns</text>
<line x1="420.60" y1="421.50" x2="440.80" y2="421.50" stroke="#1a1a1a" stroke-width="1.2"/>
<circle cx="417.50" cy="434.20" r="2.5" fill="#66aa46" stroke="#4a8732" stroke-width="0.6"/>
<circle cx="418.52" cy="434.20" r="2.5" fill="#66aa46" stroke="#4a8732" stroke-width="0.6"/>
<circle cx="419.53" cy="434.20" r="2.5" fill="#66aa46" stroke="#4a8732" stroke-width="0.6"/>
<circle cx="420.55" cy="434.20" r="2.5" fill="#66aa46" stroke="#4a8732" stroke-width="0.6"/>
<circle cx="421.57" cy="434.20" r="2.5" fill="#66aa46" stroke="#4a8732" stroke-width="0.6"/>
<circle cx="422.58" cy="434.20" r="2.5" fill="#66aa46" stroke="#4a8732" stroke-width="0.6"/>
<circle cx="423.60" cy="434.20" r="2.5" fill="#66aa46" stroke="#4a8732" stroke-width="0.6"/>
<circle cx="437.40" cy="434.20" r="2.05" fill="none" stroke="#4c2166" stroke-width="1.5"/>
<circle cx="437.94" cy="434.20" r="2.05" fill="none" stroke="#4c2166" stroke-width="1.5"/>
<circle cx="438.48" cy="434.20" r="2.05" fill="none" stroke="#4c2166" stroke-width="1.5"/>
<circle cx="439.02" cy="434.20" r="2.05" fill="none" stroke="#4c2166" stroke-width="1.5"/>
<circle cx="439.56" cy="434.20" r="2.05" fill="none" stroke="#4c2166" stroke-width="1.5"/>
<circle cx="440.10" cy="434.20" r="2.05" fill="none" stroke="#4c2166" stroke-width="1.5"/>
<circle cx="440.64" cy="434.20" r="2.05" fill="none" stroke="#4c2166" stroke-width="1.5"/>
<circle cx="441.18" cy="434.20" r="2.05" fill="none" stroke="#4c2166" stroke-width="1.5"/>
<circle cx="441.72" cy="434.20" r="2.05" fill="none" stroke="#4c2166" stroke-width="1.5"/>
<circle cx="442.26" cy="434.20" r="2.05" fill="none" stroke="#4c2166" stroke-width="1.5"/>
<circle cx="442.80" cy="434.20" r="2.05" fill="none" stroke="#4c2166" stroke-width="1.5"/>
<circle cx="469.20" cy="431.20" r="2.5" fill="#66aa46" stroke="#4a8732" stroke-width="0.6"/>
<circle cx="472.50" cy="432.50" r="2.5" fill="#66aa46" stroke="#4a8732" stroke-width="0.6"/>
<circle cx="476.30" cy="431.20" r="2.5" fill="#66aa46" stroke="#4a8732" stroke-width="0.6"/>
<circle cx="471.50" cy="434.40" r="2.5" fill="#66aa46" stroke="#4a8732" stroke-width="0.6"/>
<circle cx="474.40" cy="433.80" r="2.5" fill="#66aa46" stroke="#4a8732" stroke-width="0.6"/>
<circle cx="492.30" cy="374.80" r="2.05" fill="none" stroke="#42225a" stroke-width="1.5"/>
<circle cx="492.30" cy="400.40" r="2.05" fill="none" stroke="#42225a" stroke-width="1.5"/>
<circle cx="492.30" cy="408.50" r="2.05" fill="none" stroke="#42225a" stroke-width="1.5"/>
<circle cx="488.50" cy="416.50" r="2.05" fill="none" stroke="#42225a" stroke-width="1.5"/>
<circle cx="498.50" cy="423.50" r="2.05" fill="none" stroke="#42225a" stroke-width="1.5"/>
<circle cx="495.00" cy="426.70" r="2.05" fill="none" stroke="#42225a" stroke-width="1.5"/>
<circle cx="491.70" cy="430.00" r="2.05" fill="none" stroke="#42225a" stroke-width="1.5"/>
<circle cx="487.90" cy="430.60" r="2.05" fill="none" stroke="#42225a" stroke-width="1.5"/>
<circle cx="494.60" cy="430.60" r="2.05" fill="none" stroke="#42225a" stroke-width="1.5"/>
<line x1="70.30" y1="516.20" x2="70.30" y2="589.00" stroke="#000" stroke-width="1.3"/>
<line x1="69.70" y1="588.40" x2="174.70" y2="588.40" stroke="#000" stroke-width="1.3"/>
<line x1="66.30" y1="519.50" x2="70.30" y2="519.50" stroke="#000" stroke-width="1.3"/>
<text x="62.60" y="523.10" font-size="10" text-anchor="end" font-weight="normal" font-style="normal" fill="#2a2a2a" >0.5</text>
<line x1="66.30" y1="533.40" x2="70.30" y2="533.40" stroke="#000" stroke-width="1.3"/>
<text x="62.60" y="537.00" font-size="10" text-anchor="end" font-weight="normal" font-style="normal" fill="#2a2a2a" >0.4</text>
<line x1="66.30" y1="546.90" x2="70.30" y2="546.90" stroke="#000" stroke-width="1.3"/>
<text x="62.60" y="550.50" font-size="10" text-anchor="end" font-weight="normal" font-style="normal" fill="#2a2a2a" >0.3</text>
<line x1="66.30" y1="560.80" x2="70.30" y2="560.80" stroke="#000" stroke-width="1.3"/>
<text x="62.60" y="564.40" font-size="10" text-anchor="end" font-weight="normal" font-style="normal" fill="#2a2a2a" >0.2</text>
<line x1="66.30" y1="574.60" x2="70.30" y2="574.60" stroke="#000" stroke-width="1.3"/>
<text x="62.60" y="578.20" font-size="10" text-anchor="end" font-weight="normal" font-style="normal" fill="#2a2a2a" >0.1</text>
<line x1="66.30" y1="588.40" x2="70.30" y2="588.40" stroke="#000" stroke-width="1.3"/>
<text x="62.60" y="592.00" font-size="10" text-anchor="end" font-weight="normal" font-style="normal" fill="#2a2a2a" >0.0</text>
<line x1="96.20" y1="588.40" x2="96.20" y2="591.90" stroke="#000" stroke-width="1.3"/>
<text x="96.20" y="603.20" font-size="9.9" text-anchor="middle" font-weight="normal" font-style="normal" fill="#2a2a2a" >ctrl</text>
<line x1="147.80" y1="588.40" x2="147.80" y2="591.90" stroke="#000" stroke-width="1.3"/>
<text x="147.80" y="603.20" font-size="9.9" text-anchor="middle" font-weight="normal" font-style="normal" fill="#2a2a2a" >CpG</text>
<text transform="translate(43.10,551.40) rotate(-90)" x="0" y="0" font-size="12" text-anchor="middle" fill="#2a2a2a" stroke="#2a2a2a" stroke-width="0.25" textLength="91.60" lengthAdjust="spacingAndGlyphs">Ratio <tspan font-style="italic">Cxcl9</tspan>/<tspan font-style="italic">L32</tspan> mRNA</text>
<text x="111.50" y="498.10" font-size="9" fill="#2a2a2a" textLength="38.50" lengthAdjust="spacingAndGlyphs"><tspan font-style="italic">P</tspan> = .0034</text>
<line x1="103.80" y1="500.40" x2="158.10" y2="500.40" stroke="#1a1a1a" stroke-width="1.2"/>
<text x="128.80" y="516.70" font-size="9" fill="#2a2a2a" textLength="38.10" lengthAdjust="spacingAndGlyphs"><tspan font-style="italic">P</tspan> &lt; .0001</text>
<line x1="138.10" y1="519.20" x2="158.10" y2="519.20" stroke="#1a1a1a" stroke-width="1.2"/>
<text x="93.20" y="541.30" font-size="9" fill="#2a2a2a" textLength="40.00" lengthAdjust="spacingAndGlyphs"><tspan font-style="italic">P</tspan> &gt; .9999</text>
<line x1="85.80" y1="543.50" x2="140.30" y2="543.50" stroke="#1a1a1a" stroke-width="1.2"/>
<text x="97.00" y="564.40" font-size="9" text-anchor="middle" font-weight="normal" font-style="normal" fill="#2a2a2a" >ns</text>
<line x1="87.00" y1="565.80" x2="107.60" y2="565.80" stroke="#1a1a1a" stroke-width="1.2"/>
<circle cx="83.20" cy="576.50" r="2.5" fill="#66aa46" stroke="#4a8732" stroke-width="0.6"/>
<circle cx="86.40" cy="578.50" r="2.5" fill="#66aa46" stroke="#4a8732" stroke-width="0.6"/>
<circle cx="89.70" cy="577.90" r="2.5" fill="#66aa46" stroke="#4a8732" stroke-width="0.6"/>
<circle cx="85.10" cy="581.20" r="2.5" fill="#66aa46" stroke="#4a8732" stroke-width="0.6"/>
<circle cx="88.30" cy="581.70" r="2.5" fill="#66aa46" stroke="#4a8732" stroke-width="0.6"/>
<circle cx="102.80" cy="576.50" r="2.05" fill="none" stroke="#42225a" stroke-width="1.5"/>
<circle cx="106.20" cy="576.50" r="2.05" fill="none" stroke="#42225a" stroke-width="1.5"/>
<circle cx="109.50" cy="577.30" r="2.05" fill="none" stroke="#42225a" stroke-width="1.5"/>
<circle cx="104.70" cy="579.80" r="2.05" fill="none" stroke="#42225a" stroke-width="1.5"/>
<circle cx="108.20" cy="580.40" r="2.05" fill="none" stroke="#42225a" stroke-width="1.5"/>
<circle cx="106.20" cy="582.30" r="2.05" fill="none" stroke="#42225a" stroke-width="1.5"/>
<circle cx="135.00" cy="572.30" r="2.5" fill="#66aa46" stroke="#4a8732" stroke-width="0.6"/>
<circle cx="142.00" cy="573.00" r="2.5" fill="#66aa46" stroke="#4a8732" stroke-width="0.6"/>
<circle cx="138.30" cy="576.50" r="2.5" fill="#66aa46" stroke="#4a8732" stroke-width="0.6"/>
<circle cx="134.80" cy="579.50" r="2.5" fill="#66aa46" stroke="#4a8732" stroke-width="0.6"/>
<circle cx="141.80" cy="579.50" r="2.5" fill="#66aa46" stroke="#4a8732" stroke-width="0.6"/>
<circle cx="138.30" cy="581.00" r="2.5" fill="#66aa46" stroke="#4a8732" stroke-width="0.6"/>
<circle cx="136.80" cy="584.00" r="2.5" fill="#66aa46" stroke="#4a8732" stroke-width="0.6"/>
<circle cx="139.80" cy="584.00" r="2.5" fill="#66aa46" stroke="#4a8732" stroke-width="0.6"/>
<circle cx="138.30" cy="586.00" r="2.5" fill="#66aa46" stroke="#4a8732" stroke-width="0.6"/>
<circle cx="157.60" cy="528.50" r="2.05" fill="none" stroke="#42225a" stroke-width="1.5"/>
<circle cx="154.30" cy="537.50" r="2.05" fill="none" stroke="#42225a" stroke-width="1.5"/>
<circle cx="160.80" cy="539.40" r="2.05" fill="none" stroke="#42225a" stroke-width="1.5"/>
<circle cx="155.10" cy="543.30" r="2.05" fill="none" stroke="#42225a" stroke-width="1.5"/>
<circle cx="159.50" cy="543.30" r="2.05" fill="none" stroke="#42225a" stroke-width="1.5"/>
<circle cx="160.80" cy="555.80" r="2.05" fill="none" stroke="#42225a" stroke-width="1.5"/>
<circle cx="154.30" cy="561.20" r="2.05" fill="none" stroke="#42225a" stroke-width="1.5"/>
<circle cx="160.80" cy="565.00" r="2.05" fill="none" stroke="#42225a" stroke-width="1.5"/>
<circle cx="154.30" cy="567.70" r="2.05" fill="none" stroke="#42225a" stroke-width="1.5"/>
<circle cx="157.60" cy="570.80" r="2.05" fill="none" stroke="#42225a" stroke-width="1.5"/>
<circle cx="157.60" cy="578.80" r="2.05" fill="none" stroke="#42225a" stroke-width="1.5"/>
<line x1="239.20" y1="516.00" x2="239.20" y2="567.50" stroke="#000" stroke-width="1.3"/>
<line x1="239.20" y1="572.40" x2="239.20" y2="588.80" stroke="#000" stroke-width="1.3"/>
<line x1="235.00" y1="567.50" x2="243.00" y2="567.50" stroke="#000" stroke-width="1.15"/>
<line x1="235.00" y1="572.40" x2="243.00" y2="572.40" stroke="#000" stroke-width="1.15"/>
<line x1="238.60" y1="588.20" x2="343.50" y2="588.20" stroke="#000" stroke-width="1.3"/>
<line x1="235.20" y1="519.40" x2="239.20" y2="519.40" stroke="#000" stroke-width="1.3"/>
<text x="231.50" y="523.00" font-size="10" text-anchor="end" font-weight="normal" font-style="normal" fill="#2a2a2a" >15</text>
<line x1="235.20" y1="535.80" x2="239.20" y2="535.80" stroke="#000" stroke-width="1.3"/>
<text x="231.50" y="539.40" font-size="10" text-anchor="end" font-weight="normal" font-style="normal" fill="#2a2a2a" >10</text>
<line x1="235.20" y1="552.20" x2="239.20" y2="552.20" stroke="#000" stroke-width="1.3"/>
<text x="231.50" y="555.80" font-size="10" text-anchor="end" font-weight="normal" font-style="normal" fill="#2a2a2a" >5</text>
<line x1="235.20" y1="572.40" x2="239.20" y2="572.40" stroke="#000" stroke-width="1.3"/>
<text x="231.50" y="576.00" font-size="10" text-anchor="end" font-weight="normal" font-style="normal" fill="#2a2a2a" >0.5</text>
<line x1="235.20" y1="588.20" x2="239.20" y2="588.20" stroke="#000" stroke-width="1.3"/>
<text x="231.50" y="591.80" font-size="10" text-anchor="end" font-weight="normal" font-style="normal" fill="#2a2a2a" >0.0</text>
<line x1="264.60" y1="588.20" x2="264.60" y2="591.70" stroke="#000" stroke-width="1.3"/>
<text x="264.60" y="603.40" font-size="9.9" text-anchor="middle" font-weight="normal" font-style="normal" fill="#2a2a2a" >ctrl</text>
<line x1="316.80" y1="588.20" x2="316.80" y2="591.70" stroke="#000" stroke-width="1.3"/>
<text x="316.80" y="603.40" font-size="9.9" text-anchor="middle" font-weight="normal" font-style="normal" fill="#2a2a2a" >CpG</text>
<text transform="translate(211.70,552.00) rotate(-90)" x="0" y="0" font-size="12" text-anchor="middle" fill="#2a2a2a" stroke="#2a2a2a" stroke-width="0.25" textLength="92.00" lengthAdjust="spacingAndGlyphs">Ratio <tspan font-style="italic">Cxcl9</tspan>/<tspan font-style="italic">L32</tspan> mRNA</text>
<text x="279.60" y="498.10" font-size="9" fill="#2a2a2a" textLength="38.50" lengthAdjust="spacingAndGlyphs"><tspan font-style="italic">P</tspan> = .0003</text>
<line x1="271.90" y1="500.40" x2="325.40" y2="500.40" stroke="#1a1a1a" stroke-width="1.2"/>
<text x="297.30" y="515.80" font-size="9" fill="#2a2a2a" textLength="37.70" lengthAdjust="spacingAndGlyphs"><tspan font-style="italic">P</tspan> = .0123</text>
<line x1="306.20" y1="518.30" x2="325.80" y2="518.30" stroke="#1a1a1a" stroke-width="1.2"/>
<text x="261.90" y="533.50" font-size="9" fill="#2a2a2a" textLength="38.50" lengthAdjust="spacingAndGlyphs"><tspan font-style="italic">P</tspan> = .0005</text>
<line x1="254.20" y1="535.40" x2="308.10" y2="535.40" stroke="#1a1a1a" stroke-width="1.2"/>
<text x="264.60" y="563.50" font-size="9" text-anchor="middle" font-weight="normal" font-style="normal" fill="#2a2a2a" >ns</text>
<line x1="255.00" y1="565.80" x2="275.00" y2="565.80" stroke="#1a1a1a" stroke-width="1.2"/>
<circle cx="251.90" cy="585.60" r="2.5" fill="#66aa46" stroke="#4a8732" stroke-width="0.6"/>
<circle cx="255.40" cy="586.20" r="2.5" fill="#66aa46" stroke="#4a8732" stroke-width="0.6"/>
<circle cx="258.30" cy="586.20" r="2.5" fill="#66aa46" stroke="#4a8732" stroke-width="0.6"/>
<circle cx="254.00" cy="586.50" r="2.5" fill="#66aa46" stroke="#4a8732" stroke-width="0.6"/>
<circle cx="275.00" cy="578.50" r="2.05" fill="none" stroke="#42225a" stroke-width="1.5"/>
<circle cx="271.70" cy="585.60" r="2.05" fill="none" stroke="#42225a" stroke-width="1.5"/>
<circle cx="275.00" cy="585.60" r="2.05" fill="none" stroke="#42225a" stroke-width="1.5"/>
<circle cx="278.50" cy="585.60" r="2.05" fill="none" stroke="#42225a" stroke-width="1.5"/>
<circle cx="306.90" cy="542.70" r="2.5" fill="#66aa46" stroke="#4a8732" stroke-width="0.6"/>
<circle cx="310.80" cy="544.20" r="2.5" fill="#66aa46" stroke="#4a8732" stroke-width="0.6"/>
<circle cx="303.80" cy="549.60" r="2.5" fill="#66aa46" stroke="#4a8732" stroke-width="0.6"/>
<circle cx="303.50" cy="557.70" r="2.5" fill="#66aa46" stroke="#4a8732" stroke-width="0.6"/>
<circle cx="309.20" cy="557.70" r="2.5" fill="#66aa46" stroke="#4a8732" stroke-width="0.6"/>
<circle cx="306.30" cy="560.00" r="2.5" fill="#66aa46" stroke="#4a8732" stroke-width="0.6"/>
<circle cx="304.40" cy="562.50" r="2.5" fill="#66aa46" stroke="#4a8732" stroke-width="0.6"/>
<circle cx="309.20" cy="562.50" r="2.5" fill="#66aa46" stroke="#4a8732" stroke-width="0.6"/>
<circle cx="305.40" cy="565.40" r="2.5" fill="#66aa46" stroke="#4a8732" stroke-width="0.6"/>
<circle cx="309.20" cy="565.40" r="2.5" fill="#66aa46" stroke="#4a8732" stroke-width="0.6"/>
<circle cx="306.90" cy="567.30" r="2.5" fill="#66aa46" stroke="#4a8732" stroke-width="0.6"/>
<circle cx="326.50" cy="528.50" r="2.05" fill="none" stroke="#42225a" stroke-width="1.5"/>
<circle cx="329.40" cy="536.90" r="2.05" fill="none" stroke="#42225a" stroke-width="1.5"/>
<circle cx="319.80" cy="540.00" r="2.05" fill="none" stroke="#42225a" stroke-width="1.5"/>
<circle cx="323.10" cy="545.20" r="2.05" fill="none" stroke="#42225a" stroke-width="1.5"/>
<circle cx="329.40" cy="546.20" r="2.05" fill="none" stroke="#42225a" stroke-width="1.5"/>
<circle cx="324.60" cy="550.00" r="2.05" fill="none" stroke="#42225a" stroke-width="1.5"/>
<circle cx="328.50" cy="550.00" r="2.05" fill="none" stroke="#42225a" stroke-width="1.5"/>
<circle cx="323.10" cy="553.50" r="2.05" fill="none" stroke="#42225a" stroke-width="1.5"/>
<circle cx="328.80" cy="554.20" r="2.05" fill="none" stroke="#42225a" stroke-width="1.5"/>
<circle cx="325.60" cy="556.70" r="2.05" fill="none" stroke="#42225a" stroke-width="1.5"/>
<circle cx="326.90" cy="559.20" r="2.05" fill="none" stroke="#42225a" stroke-width="1.5"/>
<line x1="404.70" y1="516.00" x2="404.70" y2="589.00" stroke="#000" stroke-width="1.3"/>
<line x1="404.10" y1="588.40" x2="508.50" y2="588.40" stroke="#000" stroke-width="1.3"/>
<line x1="401.20" y1="519.50" x2="404.70" y2="519.50" stroke="#000" stroke-width="1.3"/>
<text x="396.60" y="523.10" font-size="10" text-anchor="end" font-weight="normal" font-style="normal" fill="#2a2a2a" >200</text>
<line x1="401.20" y1="536.50" x2="404.70" y2="536.50" stroke="#000" stroke-width="1.3"/>
<text x="396.60" y="540.10" font-size="10" text-anchor="end" font-weight="normal" font-style="normal" fill="#2a2a2a" >150</text>
<line x1="401.20" y1="553.80" x2="404.70" y2="553.80" stroke="#000" stroke-width="1.3"/>
<text x="396.60" y="557.40" font-size="10" text-anchor="end" font-weight="normal" font-style="normal" fill="#2a2a2a" >100</text>
<line x1="401.20" y1="571.10" x2="404.70" y2="571.10" stroke="#000" stroke-width="1.3"/>
<text x="396.60" y="574.70" font-size="10" text-anchor="end" font-weight="normal" font-style="normal" fill="#2a2a2a" >50</text>
<line x1="401.20" y1="588.40" x2="404.70" y2="588.40" stroke="#000" stroke-width="1.3"/>
<text x="396.60" y="592.00" font-size="10" text-anchor="end" font-weight="normal" font-style="normal" fill="#2a2a2a" >0</text>
<line x1="428.20" y1="588.40" x2="428.20" y2="591.90" stroke="#000" stroke-width="1.3"/>
<text x="428.20" y="603.70" font-size="9.9" text-anchor="middle" font-weight="normal" font-style="normal" fill="#2a2a2a" >baseline</text>
<line x1="483.50" y1="588.40" x2="483.50" y2="591.90" stroke="#000" stroke-width="1.3"/>
<text x="483.50" y="603.70" font-size="9.9" text-anchor="middle" font-weight="normal" font-style="normal" fill="#2a2a2a" >CpG</text>
<text transform="translate(375.30,551.70) rotate(-90)" x="0" y="0" font-size="12" text-anchor="middle" fill="#2a2a2a" stroke="#2a2a2a" stroke-width="0.25" textLength="60.50" lengthAdjust="spacingAndGlyphs">CXCL9 (ng/mL)</text>
<text x="448.80" y="505.00" font-size="9" fill="#2a2a2a" textLength="38.90" lengthAdjust="spacingAndGlyphs"><tspan font-style="italic">P</tspan> = .0020</text>
<line x1="441.20" y1="507.70" x2="494.60" y2="507.70" stroke="#1a1a1a" stroke-width="1.2"/>
<text x="465.80" y="523.70" font-size="9" fill="#2a2a2a" textLength="37.90" lengthAdjust="spacingAndGlyphs"><tspan font-style="italic">P</tspan> &lt; .0001</text>
<line x1="474.80" y1="526.20" x2="495.00" y2="526.20" stroke="#1a1a1a" stroke-width="1.2"/>
<text x="427.70" y="551.90" font-size="9" fill="#2a2a2a" textLength="39.00" lengthAdjust="spacingAndGlyphs"><tspan font-style="italic">P</tspan> = .0010</text>
<line x1="420.00" y1="554.20" x2="473.50" y2="554.20" stroke="#1a1a1a" stroke-width="1.2"/>
<text x="430.20" y="574.60" font-size="9" text-anchor="middle" font-weight="normal" font-style="normal" fill="#2a2a2a" >ns</text>
<line x1="420.00" y1="576.50" x2="440.80" y2="576.50" stroke="#1a1a1a" stroke-width="1.2"/>
<circle cx="416.20" cy="587.00" r="2.5" fill="#66aa46" stroke="#4a8732" stroke-width="0.6"/>
<circle cx="417.12" cy="587.00" r="2.5" fill="#66aa46" stroke="#4a8732" stroke-width="0.6"/>
<circle cx="418.03" cy="587.00" r="2.5" fill="#66aa46" stroke="#4a8732" stroke-width="0.6"/>
<circle cx="418.95" cy="587.00" r="2.5" fill="#66aa46" stroke="#4a8732" stroke-width="0.6"/>
<circle cx="419.87" cy="587.00" r="2.5" fill="#66aa46" stroke="#4a8732" stroke-width="0.6"/>
<circle cx="420.78" cy="587.00" r="2.5" fill="#66aa46" stroke="#4a8732" stroke-width="0.6"/>
<circle cx="421.70" cy="587.00" r="2.5" fill="#66aa46" stroke="#4a8732" stroke-width="0.6"/>
<circle cx="436.80" cy="587.00" r="2.05" fill="none" stroke="#4c2166" stroke-width="1.5"/>
<circle cx="437.34" cy="587.00" r="2.05" fill="none" stroke="#4c2166" stroke-width="1.5"/>
<circle cx="437.88" cy="587.00" r="2.05" fill="none" stroke="#4c2166" stroke-width="1.5"/>
<circle cx="438.42" cy="587.00" r="2.05" fill="none" stroke="#4c2166" stroke-width="1.5"/>
<circle cx="438.96" cy="587.00" r="2.05" fill="none" stroke="#4c2166" stroke-width="1.5"/>
<circle cx="439.50" cy="587.00" r="2.05" fill="none" stroke="#4c2166" stroke-width="1.5"/>
<circle cx="440.04" cy="587.00" r="2.05" fill="none" stroke="#4c2166" stroke-width="1.5"/>
<circle cx="440.58" cy="587.00" r="2.05" fill="none" stroke="#4c2166" stroke-width="1.5"/>
<circle cx="441.12" cy="587.00" r="2.05" fill="none" stroke="#4c2166" stroke-width="1.5"/>
<circle cx="441.66" cy="587.00" r="2.05" fill="none" stroke="#4c2166" stroke-width="1.5"/>
<circle cx="442.20" cy="587.00" r="2.05" fill="none" stroke="#4c2166" stroke-width="1.5"/>
<circle cx="472.50" cy="567.30" r="2.5" fill="#66aa46" stroke="#4a8732" stroke-width="0.6"/>
<circle cx="466.70" cy="576.90" r="2.5" fill="#66aa46" stroke="#4a8732" stroke-width="0.6"/>
<circle cx="480.80" cy="579.80" r="2.5" fill="#66aa46" stroke="#4a8732" stroke-width="0.6"/>
<circle cx="470.60" cy="581.20" r="2.5" fill="#66aa46" stroke="#4a8732" stroke-width="0.6"/>
<circle cx="477.30" cy="580.80" r="2.5" fill="#66aa46" stroke="#4a8732" stroke-width="0.6"/>
<circle cx="475.00" cy="583.70" r="2.5" fill="#66aa46" stroke="#4a8732" stroke-width="0.6"/>
<circle cx="468.70" cy="585.60" r="2.5" fill="#66aa46" stroke="#4a8732" stroke-width="0.6"/>
<circle cx="472.50" cy="586.90" r="2.5" fill="#66aa46" stroke="#4a8732" stroke-width="0.6"/>
<circle cx="478.30" cy="586.20" r="2.5" fill="#66aa46" stroke="#4a8732" stroke-width="0.6"/>
<circle cx="490.40" cy="534.20" r="2.05" fill="none" stroke="#42225a" stroke-width="1.5"/>
<circle cx="497.50" cy="536.20" r="2.05" fill="none" stroke="#42225a" stroke-width="1.5"/>
<circle cx="490.40" cy="559.20" r="2.05" fill="none" stroke="#42225a" stroke-width="1.5"/>
<circle cx="494.20" cy="559.20" r="2.05" fill="none" stroke="#42225a" stroke-width="1.5"/>
<circle cx="498.00" cy="559.60" r="2.05" fill="none" stroke="#42225a" stroke-width="1.5"/>
<circle cx="498.00" cy="563.50" r="2.05" fill="none" stroke="#42225a" stroke-width="1.5"/>
<circle cx="490.40" cy="565.80" r="2.05" fill="none" stroke="#42225a" stroke-width="1.5"/>
<circle cx="494.60" cy="568.80" r="2.05" fill="none" stroke="#42225a" stroke-width="1.5"/>
<circle cx="490.40" cy="576.50" r="2.05" fill="none" stroke="#42225a" stroke-width="1.5"/>
<circle cx="497.50" cy="576.50" r="2.05" fill="none" stroke="#42225a" stroke-width="1.5"/>
<line x1="70.40" y1="687.80" x2="70.40" y2="760.90" stroke="#000" stroke-width="1.3"/>
<line x1="69.80" y1="760.30" x2="174.70" y2="760.30" stroke="#000" stroke-width="1.3"/>
<line x1="66.40" y1="690.90" x2="70.40" y2="690.90" stroke="#000" stroke-width="1.3"/>
<text x="62.40" y="694.50" font-size="10" text-anchor="end" font-weight="normal" font-style="normal" fill="#2a2a2a" >0.03</text>
<line x1="66.40" y1="714.10" x2="70.40" y2="714.10" stroke="#000" stroke-width="1.3"/>
<text x="62.40" y="717.70" font-size="10" text-anchor="end" font-weight="normal" font-style="normal" fill="#2a2a2a" >0.02</text>
<line x1="66.40" y1="737.10" x2="70.40" y2="737.10" stroke="#000" stroke-width="1.3"/>
<text x="62.40" y="740.70" font-size="10" text-anchor="end" font-weight="normal" font-style="normal" fill="#2a2a2a" >0.01</text>
<line x1="66.40" y1="760.30" x2="70.40" y2="760.30" stroke="#000" stroke-width="1.3"/>
<text x="62.40" y="763.90" font-size="10" text-anchor="end" font-weight="normal" font-style="normal" fill="#2a2a2a" >0.00</text>
<line x1="96.20" y1="760.30" x2="96.20" y2="763.80" stroke="#000" stroke-width="1.3"/>
<text x="96.20" y="775.40" font-size="9.9" text-anchor="middle" font-weight="normal" font-style="normal" fill="#2a2a2a" >ctrl</text>
<line x1="147.80" y1="760.30" x2="147.80" y2="763.80" stroke="#000" stroke-width="1.3"/>
<text x="147.80" y="775.40" font-size="9.9" text-anchor="middle" font-weight="normal" font-style="normal" fill="#2a2a2a" >CpG</text>
<text transform="translate(37.60,723.40) rotate(-90)" x="0" y="0" font-size="12" text-anchor="middle" fill="#2a2a2a" stroke="#2a2a2a" stroke-width="0.25" textLength="86.60" lengthAdjust="spacingAndGlyphs">Ratio <tspan font-style="italic">Ciita</tspan>/<tspan font-style="italic">L32</tspan> mRNA</text>
<text x="111.90" y="651.90" font-size="9" fill="#2a2a2a" textLength="38.50" lengthAdjust="spacingAndGlyphs"><tspan font-style="italic">P</tspan> = .0186</text>
<line x1="103.80" y1="654.20" x2="157.70" y2="654.20" stroke="#1a1a1a" stroke-width="1.2"/>
<text x="93.80" y="668.80" font-size="9" fill="#2a2a2a" textLength="38.50" lengthAdjust="spacingAndGlyphs"><tspan font-style="italic">P</tspan> = .9776</text>
<line x1="86.20" y1="670.80" x2="140.00" y2="670.80" stroke="#1a1a1a" stroke-width="1.2"/>
<text x="128.80" y="684.20" font-size="9" fill="#2a2a2a" textLength="38.90" lengthAdjust="spacingAndGlyphs"><tspan font-style="italic">P</tspan> = .0100</text>
<line x1="138.10" y1="686.70" x2="158.10" y2="686.70" stroke="#1a1a1a" stroke-width="1.2"/>
<text x="77.40" y="725.10" font-size="9" fill="#2a2a2a" textLength="38.80" lengthAdjust="spacingAndGlyphs"><tspan font-style="italic">P</tspan> = .0397</text>
<line x1="87.00" y1="727.60" x2="107.60" y2="727.60" stroke="#1a1a1a" stroke-width="1.2"/>
<circle cx="83.20" cy="738.50" r="2.5" fill="#66aa46" stroke="#4a8732" stroke-width="0.6"/>
<circle cx="86.40" cy="739.70" r="2.5" fill="#66aa46" stroke="#4a8732" stroke-width="0.6"/>
<circle cx="89.70" cy="739.70" r="2.5" fill="#66aa46" stroke="#4a8732" stroke-width="0.6"/>
<circle cx="85.10" cy="742.40" r="2.5" fill="#66aa46" stroke="#4a8732" stroke-width="0.6"/>
<circle cx="88.30" cy="743.50" r="2.5" fill="#66aa46" stroke="#4a8732" stroke-width="0.6"/>
<circle cx="102.80" cy="736.60" r="2.05" fill="none" stroke="#42225a" stroke-width="1.5"/>
<circle cx="106.20" cy="737.20" r="2.05" fill="none" stroke="#42225a" stroke-width="1.5"/>
<circle cx="109.50" cy="738.20" r="2.05" fill="none" stroke="#42225a" stroke-width="1.5"/>
<circle cx="104.70" cy="739.70" r="2.05" fill="none" stroke="#42225a" stroke-width="1.5"/>
<circle cx="108.20" cy="740.50" r="2.05" fill="none" stroke="#42225a" stroke-width="1.5"/>
<circle cx="106.20" cy="742.00" r="2.05" fill="none" stroke="#42225a" stroke-width="1.5"/>
<circle cx="138.30" cy="710.30" r="2.5" fill="#66aa46" stroke="#4a8732" stroke-width="0.6"/>
<circle cx="138.30" cy="726.60" r="2.5" fill="#66aa46" stroke="#4a8732" stroke-width="0.6"/>
<circle cx="134.50" cy="729.50" r="2.5" fill="#66aa46" stroke="#4a8732" stroke-width="0.6"/>
<circle cx="141.60" cy="732.40" r="2.5" fill="#66aa46" stroke="#4a8732" stroke-width="0.6"/>
<circle cx="138.30" cy="736.20" r="2.5" fill="#66aa46" stroke="#4a8732" stroke-width="0.6"/>
<circle cx="135.50" cy="743.50" r="2.5" fill="#66aa46" stroke="#4a8732" stroke-width="0.6"/>
<circle cx="140.30" cy="743.50" r="2.5" fill="#66aa46" stroke="#4a8732" stroke-width="0.6"/>
<circle cx="137.40" cy="746.80" r="2.5" fill="#66aa46" stroke="#4a8732" stroke-width="0.6"/>
<circle cx="141.20" cy="745.80" r="2.5" fill="#66aa46" stroke="#4a8732" stroke-width="0.6"/>
<circle cx="138.30" cy="749.70" r="2.5" fill="#66aa46" stroke="#4a8732" stroke-width="0.6"/>
<circle cx="157.60" cy="695.50" r="2.05" fill="none" stroke="#42225a" stroke-width="1.5"/>
<circle cx="157.60" cy="709.70" r="2.05" fill="none" stroke="#42225a" stroke-width="1.5"/>
<circle cx="161.40" cy="716.00" r="2.05" fill="none" stroke="#42225a" stroke-width="1.5"/>
<circle cx="154.70" cy="718.90" r="2.05" fill="none" stroke="#42225a" stroke-width="1.5"/>
<circle cx="160.10" cy="720.50" r="2.05" fill="none" stroke="#42225a" stroke-width="1.5"/>
<circle cx="156.60" cy="721.80" r="2.05" fill="none" stroke="#42225a" stroke-width="1.5"/>
<circle cx="154.30" cy="729.50" r="2.05" fill="none" stroke="#42225a" stroke-width="1.5"/>
<circle cx="161.40" cy="728.50" r="2.05" fill="none" stroke="#42225a" stroke-width="1.5"/>
<circle cx="157.60" cy="732.80" r="2.05" fill="none" stroke="#42225a" stroke-width="1.5"/>
<circle cx="154.30" cy="735.80" r="2.05" fill="none" stroke="#42225a" stroke-width="1.5"/>
<circle cx="157.60" cy="739.10" r="2.05" fill="none" stroke="#42225a" stroke-width="1.5"/>
<circle cx="161.40" cy="739.70" r="2.05" fill="none" stroke="#42225a" stroke-width="1.5"/>
<line x1="239.40" y1="687.80" x2="239.40" y2="760.90" stroke="#000" stroke-width="1.3"/>
<line x1="238.80" y1="760.30" x2="343.50" y2="760.30" stroke="#000" stroke-width="1.3"/>
<line x1="235.40" y1="690.90" x2="239.40" y2="690.90" stroke="#000" stroke-width="1.3"/>
<text x="231.50" y="694.50" font-size="10" text-anchor="end" font-weight="normal" font-style="normal" fill="#2a2a2a" >0.15</text>
<line x1="235.40" y1="714.10" x2="239.40" y2="714.10" stroke="#000" stroke-width="1.3"/>
<text x="231.50" y="717.70" font-size="10" text-anchor="end" font-weight="normal" font-style="normal" fill="#2a2a2a" >0.10</text>
<line x1="235.40" y1="737.40" x2="239.40" y2="737.40" stroke="#000" stroke-width="1.3"/>
<text x="231.50" y="741.00" font-size="10" text-anchor="end" font-weight="normal" font-style="normal" fill="#2a2a2a" >0.05</text>
<line x1="235.40" y1="760.30" x2="239.40" y2="760.30" stroke="#000" stroke-width="1.3"/>
<text x="231.50" y="763.90" font-size="10" text-anchor="end" font-weight="normal" font-style="normal" fill="#2a2a2a" >0.00</text>
<line x1="264.60" y1="760.30" x2="264.60" y2="763.80" stroke="#000" stroke-width="1.3"/>
<text x="264.60" y="774.80" font-size="9.9" text-anchor="middle" font-weight="normal" font-style="normal" fill="#2a2a2a" >ctrl</text>
<line x1="316.80" y1="760.30" x2="316.80" y2="763.80" stroke="#000" stroke-width="1.3"/>
<text x="316.80" y="774.80" font-size="9.9" text-anchor="middle" font-weight="normal" font-style="normal" fill="#2a2a2a" >CpG</text>
<text transform="translate(206.00,723.40) rotate(-90)" x="0" y="0" font-size="12" text-anchor="middle" fill="#2a2a2a" stroke="#2a2a2a" stroke-width="0.25" textLength="86.60" lengthAdjust="spacingAndGlyphs">Ratio <tspan font-style="italic">Ciita</tspan>/<tspan font-style="italic">L32</tspan> mRNA</text>
<text x="279.60" y="680.80" font-size="9" fill="#2a2a2a" textLength="38.90" lengthAdjust="spacingAndGlyphs"><tspan font-style="italic">P</tspan> = .0003</text>
<line x1="271.90" y1="683.50" x2="325.80" y2="683.50" stroke="#1a1a1a" stroke-width="1.2"/>
<text x="297.30" y="698.80" font-size="9" fill="#2a2a2a" textLength="37.70" lengthAdjust="spacingAndGlyphs"><tspan font-style="italic">P</tspan> &lt; .0001</text>
<line x1="306.20" y1="701.30" x2="326.70" y2="701.30" stroke="#1a1a1a" stroke-width="1.2"/>
<text x="262.70" y="731.40" font-size="9" fill="#2a2a2a" textLength="37.30" lengthAdjust="spacingAndGlyphs"><tspan font-style="italic">P</tspan> = .0005</text>
<line x1="255.00" y1="733.30" x2="308.30" y2="733.30" stroke="#1a1a1a" stroke-width="1.2"/>
<circle cx="251.90" cy="759.30" r="2.5" fill="#66aa46" stroke="#4a8732" stroke-width="0.6"/>
<circle cx="252.84" cy="759.30" r="2.5" fill="#66aa46" stroke="#4a8732" stroke-width="0.6"/>
<circle cx="253.79" cy="759.30" r="2.5" fill="#66aa46" stroke="#4a8732" stroke-width="0.6"/>
<circle cx="254.73" cy="759.30" r="2.5" fill="#66aa46" stroke="#4a8732" stroke-width="0.6"/>
<circle cx="255.67" cy="759.30" r="2.5" fill="#66aa46" stroke="#4a8732" stroke-width="0.6"/>
<circle cx="256.61" cy="759.30" r="2.5" fill="#66aa46" stroke="#4a8732" stroke-width="0.6"/>
<circle cx="257.56" cy="759.30" r="2.5" fill="#66aa46" stroke="#4a8732" stroke-width="0.6"/>
<circle cx="258.50" cy="759.30" r="2.5" fill="#66aa46" stroke="#4a8732" stroke-width="0.6"/>
<circle cx="271.60" cy="759.30" r="2.05" fill="none" stroke="#4c2166" stroke-width="1.5"/>
<circle cx="272.20" cy="759.30" r="2.05" fill="none" stroke="#4c2166" stroke-width="1.5"/>
<circle cx="272.80" cy="759.30" r="2.05" fill="none" stroke="#4c2166" stroke-width="1.5"/>
<circle cx="273.40" cy="759.30" r="2.05" fill="none" stroke="#4c2166" stroke-width="1.5"/>
<circle cx="274.00" cy="759.30" r="2.05" fill="none" stroke="#4c2166" stroke-width="1.5"/>
<circle cx="274.60" cy="759.30" r="2.05" fill="none" stroke="#4c2166" stroke-width="1.5"/>
<circle cx="275.20" cy="759.30" r="2.05" fill="none" stroke="#4c2166" stroke-width="1.5"/>
<circle cx="275.80" cy="759.30" r="2.05" fill="none" stroke="#4c2166" stroke-width="1.5"/>
<circle cx="276.40" cy="759.30" r="2.05" fill="none" stroke="#4c2166" stroke-width="1.5"/>
<circle cx="277.00" cy="759.30" r="2.05" fill="none" stroke="#4c2166" stroke-width="1.5"/>
<circle cx="277.60" cy="759.30" r="2.05" fill="none" stroke="#4c2166" stroke-width="1.5"/>
<circle cx="306.30" cy="743.50" r="2.5" fill="#66aa46" stroke="#4a8732" stroke-width="0.6"/>
<circle cx="310.20" cy="741.60" r="2.5" fill="#66aa46" stroke="#4a8732" stroke-width="0.6"/>
<circle cx="304.40" cy="746.80" r="2.5" fill="#66aa46" stroke="#4a8732" stroke-width="0.6"/>
<circle cx="307.30" cy="748.20" r="2.5" fill="#66aa46" stroke="#4a8732" stroke-width="0.6"/>
<circle cx="303.50" cy="755.10" r="2.5" fill="#66aa46" stroke="#4a8732" stroke-width="0.6"/>
<circle cx="310.20" cy="755.10" r="2.5" fill="#66aa46" stroke="#4a8732" stroke-width="0.6"/>
<circle cx="305.40" cy="758.30" r="2.5" fill="#66aa46" stroke="#4a8732" stroke-width="0.6"/>
<circle cx="309.20" cy="758.30" r="2.5" fill="#66aa46" stroke="#4a8732" stroke-width="0.6"/>
<circle cx="323.10" cy="713.20" r="2.05" fill="none" stroke="#42225a" stroke-width="1.5"/>
<circle cx="329.40" cy="710.80" r="2.05" fill="none" stroke="#42225a" stroke-width="1.5"/>
<circle cx="323.10" cy="720.80" r="2.05" fill="none" stroke="#42225a" stroke-width="1.5"/>
<circle cx="333.30" cy="722.40" r="2.05" fill="none" stroke="#42225a" stroke-width="1.5"/>
<circle cx="330.00" cy="725.10" r="2.05" fill="none" stroke="#42225a" stroke-width="1.5"/>
<circle cx="323.10" cy="727.60" r="2.05" fill="none" stroke="#42225a" stroke-width="1.5"/>
<circle cx="327.50" cy="728.90" r="2.05" fill="none" stroke="#42225a" stroke-width="1.5"/>
<circle cx="325.50" cy="726.00" r="2.05" fill="none" stroke="#42225a" stroke-width="1.5"/>
<circle cx="323.10" cy="733.90" r="2.05" fill="none" stroke="#42225a" stroke-width="1.5"/>
<circle cx="329.40" cy="737.80" r="2.05" fill="none" stroke="#42225a" stroke-width="1.5"/>
<circle cx="322.70" cy="746.20" r="2.05" fill="none" stroke="#42225a" stroke-width="1.5"/>
<circle cx="328.80" cy="746.20" r="2.05" fill="none" stroke="#42225a" stroke-width="1.5"/>
<rect x="0.75" y="0.75" width="518.5" height="785.5" fill="none" stroke="#000" stroke-width="1.5"/>
</svg>
</body></html>
